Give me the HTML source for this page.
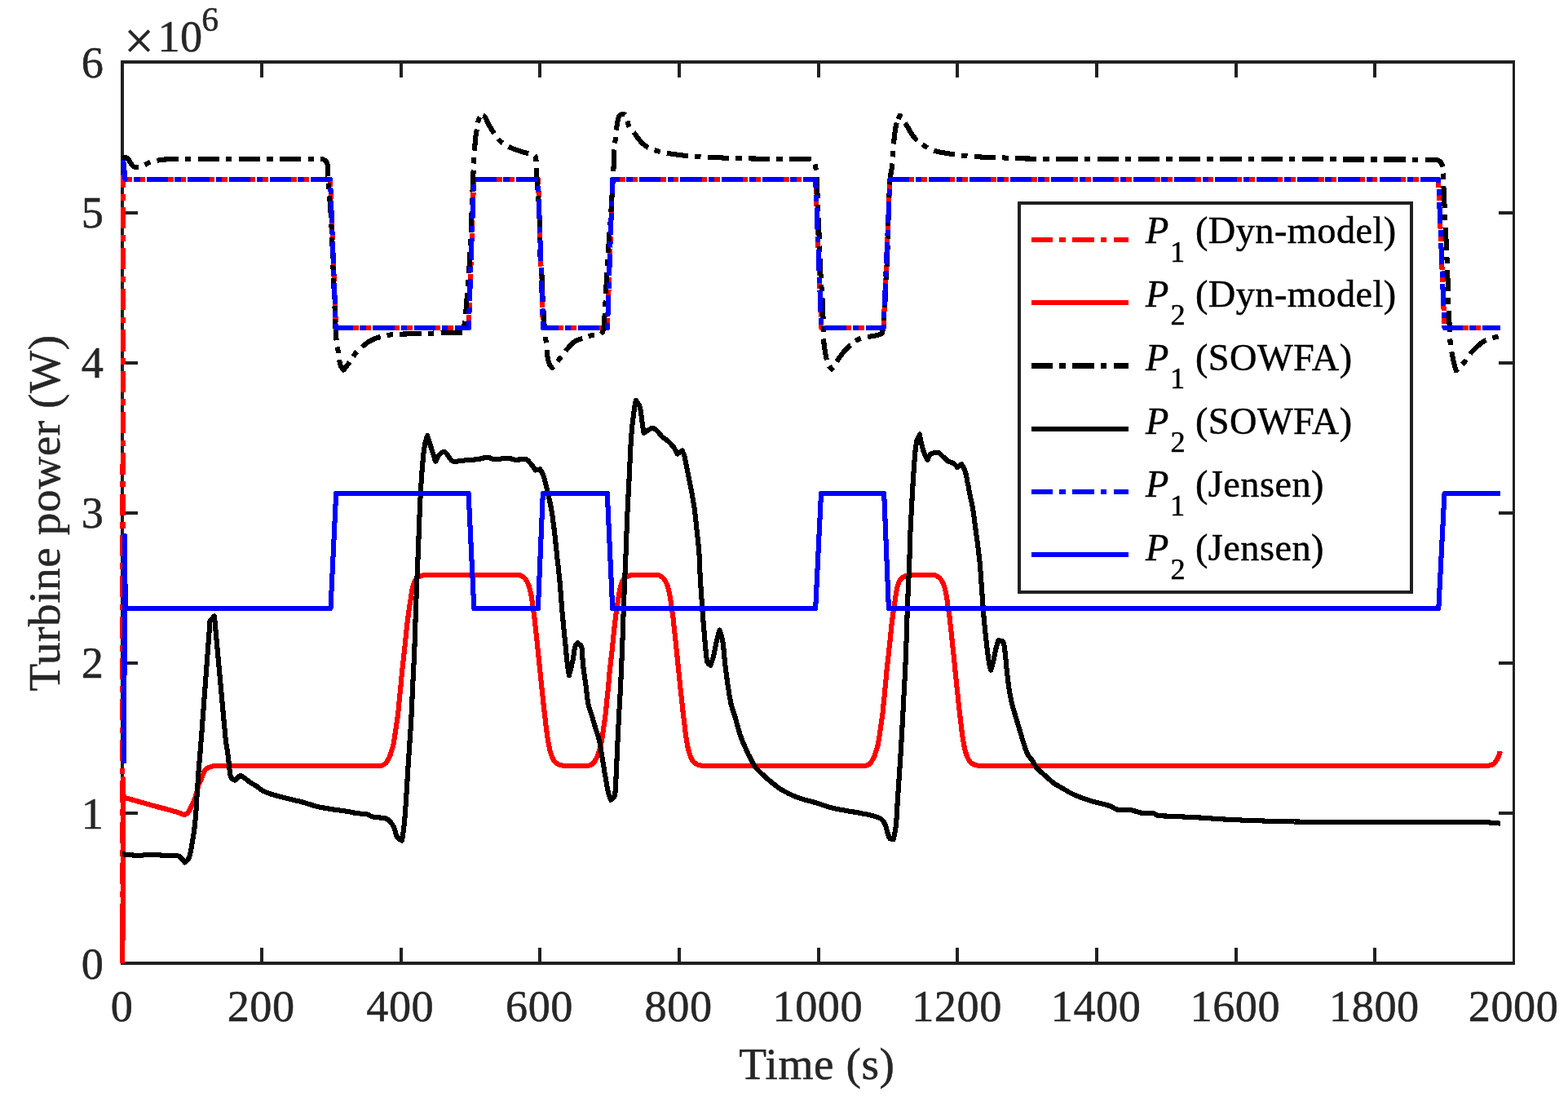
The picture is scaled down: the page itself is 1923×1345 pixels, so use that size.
<!DOCTYPE html>
<html lang="en"><head><meta charset="utf-8"><title>Turbine power</title>
<style>html,body{margin:0;padding:0;background:#fff}body{width:1923px;height:1345px;overflow:hidden}svg{display:block}text{font-family:"Liberation Serif", "DejaVu Serif", serif}</style></head><body>
<svg width="1923" height="1345" viewBox="0 0 1923 1345">
<rect width="1923" height="1345" fill="#fff"/>
<g fill="#202020" shape-rendering="crispEdges">
<rect x="148" y="74" width="4" height="1109"/>
<rect x="148" y="74" width="1710" height="4"/>
<rect x="1855" y="74" width="3" height="1109"/>
<rect x="148" y="1179" width="1710" height="4"/>
<rect x="319" y="1162" width="4" height="17"/><rect x="319" y="78" width="4" height="17"/>
<rect x="490" y="1162" width="4" height="17"/><rect x="490" y="78" width="4" height="17"/>
<rect x="660" y="1162" width="4" height="17"/><rect x="660" y="78" width="4" height="17"/>
<rect x="831" y="1162" width="4" height="17"/><rect x="831" y="78" width="4" height="17"/>
<rect x="1002" y="1162" width="4" height="17"/><rect x="1002" y="78" width="4" height="17"/>
<rect x="1172" y="1162" width="4" height="17"/><rect x="1172" y="78" width="4" height="17"/>
<rect x="1343" y="1162" width="4" height="17"/><rect x="1343" y="78" width="4" height="17"/>
<rect x="1514" y="1162" width="4" height="17"/><rect x="1514" y="78" width="4" height="17"/>
<rect x="1684" y="1162" width="4" height="17"/><rect x="1684" y="78" width="4" height="17"/>
<rect x="152" y="995" width="17" height="4"/><rect x="1838" y="995" width="17" height="4"/>
<rect x="152" y="811" width="17" height="4"/><rect x="1838" y="811" width="17" height="4"/>
<rect x="152" y="627" width="17" height="4"/><rect x="1838" y="627" width="17" height="4"/>
<rect x="152" y="443" width="17" height="4"/><rect x="1838" y="443" width="17" height="4"/>
<rect x="152" y="259" width="17" height="4"/><rect x="1838" y="259" width="17" height="4"/>
</g>
<g fill="none" stroke-width="6.1" stroke-linejoin="round" stroke-linecap="butt" shape-rendering="crispEdges">
<path d="M150.0 1180.7L150.9 217.3L151.2 220.0L405.0 220.0L412.0 402.0L574.8 402.0L581.1 220.0L660.0 220.0L666.0 402.0L744.9 402.0L751.2 220.0L1000.2 220.0L1007.3 402.0L1083.6 402.0L1091.4 220.0L1764.1 220.0L1771.5 402.0L1839.9 402.0" stroke="#ff0000" stroke-dasharray="26.3 8.05 7.5 8.42" stroke-dashoffset="4.08"/>
<path d="M150.4 1181.0L151.0 955.0L151.5 975.6L152.0 977.7L153.4 978.1L154.9 978.5L156.3 978.9L157.8 979.3L159.2 979.7L160.7 980.1L162.1 980.5L163.6 981.0L165.0 981.4L166.4 981.8L167.9 982.2L169.3 982.6L170.8 983.0L172.2 983.4L173.7 983.8L175.1 984.2L176.6 984.6L178.0 985.0L179.4 985.4L180.9 985.8L182.3 986.2L183.8 986.6L185.2 987.1L186.7 987.5L188.1 987.9L189.6 988.3L190.0 988.4L191.0 988.7L192.5 989.1L193.9 989.5L195.4 989.9L196.8 990.2L198.3 990.6L199.7 991.0L201.2 991.3L202.7 991.7L204.1 992.1L205.6 992.5L207.0 992.9L208.5 993.2L209.9 993.6L211.4 994.1L212.8 994.5L214.2 994.9L215.7 995.3L217.1 995.8L218.5 996.3L219.9 996.7L221.2 997.2L221.3 997.3L222.7 997.9L223.5 998.2L224.1 998.4L225.6 998.7L225.6 998.8L227.1 998.5L228.5 997.9L229.0 997.6L229.7 997.1L230.7 996.0L231.6 994.7L232.0 994.0L232.4 993.4L233.1 992.1L233.7 990.7L234.4 989.4L235.0 988.0L235.0 988.0L235.6 986.6L236.3 985.3L236.9 983.9L237.5 982.5L237.5 982.5L238.1 981.2L238.7 979.8L238.9 979.4L239.2 978.4L239.7 977.0L240.1 975.5L240.5 974.1L240.8 973.1L240.9 972.6L241.3 971.2L241.7 969.7L242.1 968.3L242.3 967.5L242.5 966.8L242.8 965.4L243.2 963.9L243.6 962.5L243.6 962.5L244.1 961.1L244.8 959.7L245.4 958.4L246.0 957.0L246.2 956.5L246.6 955.6L247.1 954.2L247.6 952.8L248.2 951.4L248.8 950.0L248.8 950.0L249.4 948.6L250.0 947.1L250.7 945.7L251.4 944.4L252.3 943.3L252.5 943.1L253.3 942.4L254.6 941.6L256.0 941.0L257.5 940.4L258.8 940.0L258.9 940.0L260.4 939.6L261.9 939.3L263.3 939.0L264.8 938.9L265.0 938.9L266.3 938.9L267.8 938.9L269.3 939.0L270.8 939.0L272.0 939.0L272.4 939.0L273.9 939.0L275.4 939.0L276.9 939.0L278.4 939.0L279.9 939.0L281.4 939.0L282.9 939.0L284.4 939.0L285.9 939.0L287.4 939.0L288.9 939.0L290.4 939.0L291.9 939.0L293.4 939.0L294.9 939.0L296.4 939.0L297.9 939.0L299.4 939.0L300.9 939.0L302.4 939.0L303.9 939.0L305.4 939.0L306.9 939.0L308.4 939.0L309.9 939.0L311.4 939.0L312.9 939.0L314.4 939.0L315.9 939.0L317.4 939.0L318.9 939.0L320.4 939.0L321.9 939.0L323.4 939.0L324.9 939.0L326.4 939.0L327.9 939.0L329.4 939.0L330.9 939.0L332.4 939.0L333.9 939.0L335.4 939.0L336.9 939.0L338.4 939.0L339.9 939.0L341.4 939.0L342.9 939.0L344.4 939.0L345.9 939.0L347.4 939.0L348.9 939.0L350.4 939.0L351.9 939.0L353.4 939.0L354.9 939.0L356.4 939.0L357.9 939.0L359.4 939.0L360.9 939.0L362.4 939.0L363.9 939.0L365.4 938.9L366.9 938.9L368.4 938.9L369.9 938.9L371.4 938.9L372.9 938.9L374.4 938.9L375.9 938.9L377.4 938.9L378.9 938.9L380.4 938.9L381.9 938.9L383.4 938.9L384.9 938.9L386.4 938.9L387.9 938.9L389.4 938.9L390.9 938.9L392.4 938.9L393.9 938.9L395.4 938.9L396.9 938.9L398.4 938.9L399.9 938.9L401.4 938.9L402.9 938.9L404.4 938.9L405.9 938.9L407.4 938.9L408.9 938.9L410.4 938.9L411.9 938.9L413.4 938.9L414.9 938.9L416.4 938.9L417.9 938.9L419.4 938.9L420.9 938.9L422.4 938.9L423.9 938.9L425.4 938.9L426.9 938.9L428.4 938.9L429.9 938.9L431.4 938.9L432.9 938.9L434.4 938.9L435.9 938.9L437.4 938.9L438.9 938.9L440.4 938.9L441.9 938.9L443.4 938.9L445.0 938.9L446.5 938.9L448.0 938.9L449.5 938.9L451.0 938.9L452.5 938.9L454.0 938.9L455.5 938.9L457.0 938.9L457.0 938.9L458.5 938.9L460.0 938.9L461.5 938.9L463.0 938.9L464.5 938.9L466.0 938.9L466.0 938.9L467.5 938.7L468.9 938.3L470.1 937.8L470.3 937.7L471.6 936.9L472.8 935.9L473.4 935.3L473.8 934.9L474.6 933.6L475.3 932.3L476.0 931.0L476.0 930.9L476.8 929.7L477.6 928.3L478.2 927.0L478.2 926.9L478.7 925.6L479.2 924.2L479.5 922.7L479.9 921.3L480.2 920.2L480.4 919.8L480.8 918.4L481.3 917.0L481.8 915.5L482.2 914.1L482.3 913.5L482.5 912.6L482.8 911.2L483.0 909.7L483.3 908.2L483.5 906.7L483.8 905.2L484.0 903.7L484.2 902.3L484.4 900.8L484.5 900.2L484.6 899.3L484.9 897.8L485.1 896.3L485.3 894.8L485.5 893.4L485.8 891.9L486.0 890.4L486.2 888.9L486.4 887.4L486.5 886.8L486.6 885.9L486.8 884.4L487.0 883.0L487.3 881.5L487.5 880.0L487.7 878.5L487.9 877.0L488.1 875.5L488.2 874.0L488.3 873.4L488.4 872.5L488.6 871.0L488.7 869.6L488.8 868.1L489.0 866.6L489.1 865.1L489.3 863.6L489.4 862.1L489.5 860.6L489.6 860.0L489.7 859.1L489.8 857.6L490.0 856.1L490.1 854.6L490.3 853.1L490.4 851.6L490.6 850.1L490.7 848.6L490.9 847.1L491.0 845.6L491.2 844.2L491.3 843.0L491.3 842.7L491.5 841.2L491.6 839.7L491.8 838.2L491.9 836.7L492.0 835.2L492.2 833.7L492.3 832.2L492.4 830.7L492.6 829.2L492.7 827.7L492.8 826.2L493.0 824.7L493.1 823.2L493.3 821.7L493.4 820.2L493.4 820.0L493.6 818.8L493.7 817.3L493.9 815.8L494.1 814.3L494.2 812.8L494.4 811.3L494.6 809.8L494.7 808.3L494.9 806.8L495.1 805.3L495.3 803.8L495.4 802.3L495.6 800.9L495.8 799.4L495.9 797.9L496.1 796.4L496.2 795.0L496.3 794.9L496.4 793.4L496.6 791.9L496.7 790.4L496.9 788.9L497.0 787.4L497.2 785.9L497.3 784.4L497.5 782.9L497.6 781.5L497.8 780.0L497.9 778.5L498.1 777.0L498.2 775.5L498.4 774.0L498.5 772.5L498.7 771.0L498.9 769.5L499.0 768.0L499.2 766.5L499.4 765.0L499.5 763.5L499.7 762.0L499.9 760.6L499.9 760.0L500.1 759.1L500.3 757.6L500.5 756.1L500.7 754.6L500.9 753.1L501.1 751.6L501.3 750.1L501.5 748.7L501.7 747.2L501.9 745.7L502.2 744.2L502.4 742.7L502.6 741.2L502.9 739.8L503.1 738.3L503.3 736.9L503.3 736.8L503.5 735.3L503.8 733.8L504.0 732.3L504.2 730.8L504.4 729.3L504.6 727.9L504.9 726.4L505.1 724.9L505.4 723.4L505.7 722.0L505.9 721.2L506.1 720.5L506.4 719.0L506.8 717.6L507.3 716.1L507.8 714.7L508.4 713.3L509.0 712.0L509.0 712.0L509.8 710.8L510.8 709.6L511.9 708.6L512.0 708.5L513.1 707.7L514.5 707.0L515.3 706.6L515.8 706.4L517.0 706.0L517.3 705.9L518.7 705.4L519.5 705.2L520.2 705.1L521.6 705.1L523.2 705.0L524.0 705.0L524.7 705.0L526.2 705.0L527.7 705.0L529.2 705.0L530.7 705.0L532.2 705.0L533.7 705.0L535.2 705.0L536.7 705.0L538.2 705.0L539.7 705.0L541.2 705.0L542.7 705.0L544.2 705.0L545.7 705.0L547.2 705.0L548.7 705.0L550.2 705.0L551.7 705.0L553.2 705.0L554.7 705.0L556.2 705.0L557.7 705.0L559.2 705.0L560.7 705.0L562.2 705.0L563.7 705.0L565.2 705.0L566.7 705.0L568.2 705.0L569.7 705.0L571.2 705.0L572.7 705.0L574.2 705.0L575.7 705.0L577.2 705.0L578.7 705.0L580.2 705.0L581.7 705.0L583.2 705.0L584.7 705.0L586.2 705.0L587.7 705.0L589.2 705.0L590.7 705.0L592.2 705.0L593.7 705.0L595.2 705.0L596.7 705.0L598.2 705.0L599.7 705.0L601.2 705.0L602.7 705.0L604.2 705.0L605.7 705.0L607.2 705.0L608.7 705.0L610.2 705.0L611.7 705.0L613.2 705.0L614.7 705.0L616.2 705.0L617.7 705.0L619.2 705.0L620.7 705.0L622.2 705.0L623.7 705.0L625.2 705.0L626.7 705.0L628.2 705.0L629.6 705.0L629.7 705.0L631.2 705.0L632.8 705.0L634.3 705.0L635.7 705.1L636.6 705.1L637.2 705.2L638.6 705.7L640.0 706.4L640.1 706.4L641.3 707.1L642.5 708.1L643.4 708.9L643.6 709.1L644.5 710.3L645.3 711.5L645.9 712.5L646.1 712.8L646.8 714.1L647.5 715.5L648.1 716.8L648.1 716.8L648.6 718.2L649.1 719.7L649.5 721.1L649.9 722.6L650.1 723.5L650.2 724.0L650.6 725.5L650.9 727.0L651.2 728.4L651.5 729.9L651.5 730.2L651.7 731.4L651.9 732.9L652.1 734.4L652.4 735.9L652.5 736.9L652.6 737.3L652.8 738.8L652.9 740.3L653.1 741.8L653.3 743.3L653.5 744.5L653.5 744.8L653.8 746.3L654.1 747.7L654.3 749.2L654.5 750.2L654.6 750.7L654.8 752.2L655.0 753.7L655.2 755.2L655.4 756.7L655.4 756.9L655.5 758.1L655.7 759.6L655.8 761.1L656.0 762.6L656.1 763.6L656.2 764.1L656.3 765.6L656.5 767.1L656.6 768.6L656.8 770.1L656.8 770.3L656.9 771.6L657.1 773.1L657.3 774.6L657.5 776.1L657.6 777.5L657.8 779.0L657.9 780.0L658.0 780.5L658.1 782.0L658.3 783.5L658.4 785.0L658.6 786.5L658.8 788.0L658.9 789.5L659.1 791.0L659.2 792.5L659.4 794.0L659.5 795.5L659.7 796.9L659.8 798.4L660.0 799.9L660.1 801.4L660.3 802.9L660.4 804.4L660.5 805.0L660.6 805.9L660.7 807.4L660.9 808.9L661.1 810.4L661.2 811.9L661.4 813.4L661.5 814.9L661.7 816.4L661.8 817.8L662.0 819.3L662.1 820.8L662.3 822.3L662.4 823.8L662.6 825.3L662.7 826.8L662.9 828.3L663.0 829.8L663.2 831.3L663.3 832.8L663.5 834.3L663.6 835.8L663.8 837.3L663.9 838.3L663.9 838.8L664.1 840.2L664.3 841.7L664.4 843.2L664.6 844.7L664.7 846.2L664.9 847.7L665.0 849.2L665.2 850.7L665.4 852.2L665.5 853.7L665.7 855.2L665.8 856.7L666.0 858.2L666.2 859.6L666.2 860.0L666.3 861.1L666.5 862.6L666.6 864.1L666.8 865.6L667.0 867.1L667.1 868.6L667.3 870.1L667.5 871.6L667.6 873.1L667.8 874.6L668.0 876.1L668.1 877.6L668.3 879.0L668.5 880.5L668.6 882.0L668.8 883.5L669.0 885.0L669.0 885.0L669.2 886.5L669.4 888.0L669.5 889.5L669.7 891.0L669.9 892.5L670.1 894.0L670.3 895.4L670.5 896.9L670.6 898.4L670.8 899.9L671.0 901.4L671.3 902.9L671.5 904.4L671.7 905.9L671.9 907.3L672.2 908.8L672.4 910.0L672.5 910.3L672.7 911.8L673.0 913.2L673.3 914.7L673.6 916.2L673.9 917.7L674.3 919.2L674.6 920.7L675.0 922.1L675.5 923.5L675.9 924.9L676.4 926.3L676.5 926.6L676.9 927.7L677.6 929.1L678.3 930.6L679.0 931.9L679.9 933.2L680.8 934.3L681.5 935.0L681.8 935.2L683.0 936.1L684.3 936.9L685.7 937.6L687.2 938.1L688.2 938.3L688.6 938.4L690.1 938.6L691.6 938.8L693.1 939.0L694.6 939.0L694.6 939.0L696.1 939.0L697.6 939.0L699.1 939.0L700.6 939.0L702.1 939.0L703.6 938.9L705.1 938.9L706.6 938.9L708.1 938.9L709.6 938.9L711.1 938.9L711.6 938.9L712.6 938.9L714.2 938.9L715.7 938.9L717.2 938.9L718.7 938.9L720.2 938.9L720.6 938.9L721.6 938.8L723.1 938.4L724.5 937.9L724.7 937.8L725.8 937.2L727.1 936.2L728.0 935.3L728.1 935.2L729.0 934.0L729.7 932.7L730.4 931.3L730.6 931.0L731.2 930.0L732.0 928.7L732.6 927.4L732.9 926.9L733.2 926.0L733.6 924.6L734.0 923.1L734.4 921.7L734.8 920.2L734.9 920.2L735.3 918.8L735.8 917.4L736.2 915.9L736.7 914.5L736.9 913.5L737.0 913.0L737.3 911.6L737.6 910.1L737.8 908.6L738.1 907.1L738.3 905.6L738.5 904.2L738.7 902.7L738.9 901.2L739.1 900.2L739.2 899.7L739.4 898.2L739.6 896.7L739.9 895.3L740.1 893.8L740.3 892.3L740.5 890.8L740.7 889.3L741.0 887.8L741.1 886.8L741.2 886.3L741.4 884.9L741.6 883.4L741.8 881.9L742.0 880.4L742.2 878.9L742.4 877.4L742.6 875.9L742.8 874.4L742.9 873.4L743.0 873.0L743.1 871.5L743.3 870.0L743.4 868.5L743.5 867.0L743.7 865.5L743.8 864.0L744.0 862.5L744.1 861.0L744.2 860.0L744.2 859.5L744.4 858.0L744.5 856.5L744.7 855.0L744.8 853.5L745.0 852.0L745.2 850.5L745.3 849.1L745.5 847.6L745.6 846.1L745.7 844.6L745.9 843.1L745.9 843.0L746.0 841.6L746.2 840.1L746.3 838.6L746.5 837.1L746.6 835.6L746.7 834.1L746.9 832.6L747.0 831.1L747.1 829.6L747.3 828.1L747.4 826.6L747.5 825.1L747.7 823.6L747.8 822.2L748.0 820.7L748.1 820.0L748.1 819.2L748.3 817.7L748.5 816.2L748.6 814.7L748.8 813.2L748.9 811.7L749.1 810.2L749.3 808.7L749.5 807.2L749.6 805.7L749.8 804.3L750.0 802.8L750.1 801.3L750.3 799.8L750.5 798.3L750.7 796.8L750.8 795.3L750.9 795.0L751.0 793.8L751.1 792.3L751.3 790.8L751.4 789.3L751.6 787.8L751.8 786.3L751.9 784.9L752.1 783.4L752.2 781.9L752.3 780.4L752.5 778.9L752.6 777.4L752.8 775.9L753.0 774.4L753.1 772.9L753.3 771.4L753.4 769.9L753.6 768.4L753.7 766.9L753.9 765.4L754.1 764.0L754.3 762.5L754.4 761.0L754.6 760.0L754.6 759.5L754.8 758.0L755.0 756.5L755.2 755.0L755.4 753.5L755.6 752.0L755.8 750.6L756.0 749.1L756.3 747.6L756.5 746.1L756.7 744.6L756.9 743.1L757.2 741.7L757.4 740.2L757.6 738.7L757.9 737.2L757.9 736.9L758.1 735.7L758.3 734.2L758.5 732.7L758.7 731.3L758.9 729.8L759.2 728.3L759.4 726.8L759.7 725.3L759.9 723.8L760.2 722.4L760.5 721.2L760.6 720.9L760.9 719.5L761.3 718.0L761.8 716.5L762.2 715.1L762.8 713.7L763.4 712.4L763.6 712.0L764.2 711.1L765.1 709.9L766.2 708.8L766.6 708.5L767.4 707.9L768.7 707.2L769.9 706.6L770.1 706.5L771.5 706.0L771.6 706.0L772.9 705.5L774.1 705.2L774.3 705.2L775.8 705.1L777.3 705.0L778.6 705.0L778.8 705.0L780.3 705.0L781.8 705.0L783.3 705.0L784.8 705.0L786.3 705.0L787.8 705.0L789.3 705.0L790.8 705.0L792.4 705.0L793.9 705.0L795.4 705.0L796.9 705.0L798.4 705.0L799.6 705.0L799.9 705.0L801.4 705.0L802.9 705.0L804.4 705.0L805.9 705.1L806.6 705.1L807.3 705.2L808.8 705.7L810.1 706.4L810.1 706.4L811.4 707.2L812.6 708.1L813.4 708.9L813.7 709.2L814.6 710.4L815.4 711.6L815.9 712.5L816.2 712.9L816.9 714.3L817.6 715.6L818.1 716.8L818.2 717.0L818.7 718.4L819.1 719.8L819.5 721.3L819.9 722.7L820.1 723.5L820.3 724.2L820.6 725.6L820.9 727.1L821.2 728.6L821.5 730.1L821.5 730.2L821.7 731.5L822.0 733.0L822.2 734.5L822.4 736.0L822.5 736.9L822.6 737.5L822.8 739.0L823.0 740.5L823.1 741.9L823.3 743.4L823.5 744.5L823.6 744.9L823.8 746.4L824.1 747.9L824.4 749.3L824.5 750.2L824.6 750.8L824.8 752.3L825.0 753.8L825.2 755.3L825.4 756.8L825.4 756.9L825.6 758.3L825.7 759.8L825.9 761.3L826.0 762.8L826.1 763.6L826.2 764.2L826.3 765.7L826.5 767.2L826.6 768.7L826.8 770.2L826.8 770.3L827.0 771.7L827.1 773.2L827.3 774.7L827.5 776.2L827.6 777.7L827.8 779.2L827.9 780.0L828.0 780.7L828.1 782.1L828.3 783.6L828.5 785.1L828.6 786.6L828.8 788.1L828.9 789.6L829.1 791.1L829.2 792.6L829.4 794.1L829.5 795.6L829.7 797.1L829.8 798.6L830.0 800.1L830.1 801.6L830.3 803.0L830.5 804.5L830.5 805.0L830.6 806.0L830.8 807.5L830.9 809.0L831.1 810.5L831.2 812.0L831.4 813.5L831.5 815.0L831.7 816.5L831.8 818.0L832.0 819.5L832.1 821.0L832.3 822.5L832.4 824.0L832.6 825.4L832.7 826.9L832.9 828.4L833.0 829.9L833.2 831.4L833.3 832.9L833.5 834.4L833.7 835.9L833.8 837.4L833.9 838.3L834.0 838.9L834.1 840.4L834.3 841.9L834.4 843.4L834.6 844.9L834.7 846.3L834.9 847.8L835.1 849.3L835.2 850.8L835.4 852.3L835.5 853.8L835.7 855.3L835.9 856.8L836.0 858.3L836.2 859.8L836.2 860.0L836.3 861.3L836.5 862.8L836.7 864.3L836.8 865.7L837.0 867.2L837.1 868.7L837.3 870.2L837.5 871.7L837.6 873.2L837.8 874.7L838.0 876.2L838.1 877.7L838.3 879.2L838.5 880.7L838.7 882.2L838.8 883.6L839.0 885.0L839.0 885.1L839.2 886.6L839.4 888.1L839.6 889.6L839.7 891.1L839.9 892.6L840.1 894.1L840.3 895.6L840.5 897.1L840.7 898.6L840.9 900.0L841.1 901.5L841.3 903.0L841.5 904.5L841.7 906.0L842.0 907.5L842.2 908.9L842.4 910.0L842.5 910.4L842.7 911.9L843.0 913.4L843.3 914.9L843.6 916.4L844.0 917.8L844.3 919.3L844.7 920.8L845.1 922.2L845.5 923.7L846.0 925.1L846.4 926.4L846.5 926.6L847.0 927.8L847.6 929.3L848.3 930.7L849.1 932.1L850.0 933.3L850.9 934.4L851.5 935.0L851.9 935.3L853.1 936.2L854.4 936.9L855.9 937.6L857.3 938.1L858.2 938.3L858.8 938.4L860.2 938.6L861.7 938.8L863.3 939.0L864.6 939.0L864.8 939.0L866.3 939.0L867.8 939.0L869.2 939.0L870.7 939.0L872.2 939.0L873.7 939.0L875.2 939.0L876.7 939.0L878.2 939.0L879.7 939.0L881.2 939.0L882.7 939.0L884.2 939.0L885.7 939.0L887.2 939.0L888.7 939.0L890.2 939.0L891.7 939.0L893.2 939.0L894.7 939.0L896.2 939.0L897.7 939.0L899.2 939.0L900.7 939.0L902.2 939.0L903.7 939.0L905.2 939.0L906.7 939.0L908.2 939.0L909.7 939.0L911.2 939.0L912.7 939.0L914.2 939.0L915.7 939.0L917.2 939.0L918.7 939.0L920.2 939.0L921.7 939.0L923.2 939.0L924.7 939.0L926.2 939.0L927.7 939.0L929.2 939.0L930.7 939.0L932.2 939.0L933.7 939.0L935.2 939.0L936.7 939.0L938.2 939.0L939.7 939.0L941.2 939.0L942.7 939.0L944.2 939.0L945.7 939.0L947.2 939.0L948.7 939.0L950.2 939.0L951.7 939.0L953.2 939.0L954.7 939.0L956.2 939.0L957.7 939.0L959.2 938.9L960.7 938.9L962.2 938.9L963.7 938.9L965.2 938.9L966.7 938.9L968.2 938.9L969.7 938.9L971.2 938.9L972.8 938.9L974.3 938.9L975.8 938.9L977.3 938.9L978.8 938.9L980.3 938.9L981.8 938.9L983.3 938.9L984.8 938.9L986.3 938.9L987.8 938.9L989.3 938.9L990.8 938.9L992.3 938.9L993.8 938.9L995.3 938.9L996.8 938.9L998.3 938.9L999.8 938.9L1001.3 938.9L1002.8 938.9L1004.3 938.9L1005.8 938.9L1007.3 938.9L1008.8 938.9L1010.3 938.9L1011.8 938.9L1013.3 938.9L1014.8 938.9L1016.3 938.9L1017.8 938.9L1019.3 938.9L1020.8 938.9L1022.3 938.9L1023.8 938.9L1025.3 938.9L1026.8 938.9L1028.3 938.9L1029.9 938.9L1031.4 938.9L1032.9 938.9L1034.4 938.9L1035.9 938.9L1037.4 938.9L1038.9 938.9L1040.4 938.9L1041.9 938.9L1043.4 938.9L1044.9 938.9L1046.4 938.9L1047.9 938.9L1049.4 938.9L1050.9 938.9L1051.3 938.9L1052.4 938.9L1053.9 938.9L1055.4 938.9L1056.9 938.9L1058.4 938.9L1059.9 938.9L1060.3 938.9L1061.4 938.8L1062.9 938.4L1064.3 937.9L1064.4 937.8L1065.6 937.2L1066.8 936.2L1067.7 935.3L1067.8 935.2L1068.7 934.0L1069.4 932.6L1070.1 931.3L1070.3 931.0L1070.9 930.0L1071.7 928.7L1072.4 927.4L1072.5 926.9L1072.9 926.0L1073.3 924.5L1073.7 923.1L1074.1 921.6L1074.5 920.2L1074.6 920.2L1075.0 918.8L1075.5 917.3L1075.9 915.9L1076.4 914.5L1076.6 913.5L1076.7 913.0L1077.0 911.5L1077.3 910.1L1077.5 908.6L1077.8 907.1L1078.0 905.6L1078.2 904.1L1078.4 902.6L1078.7 901.2L1078.8 900.2L1078.9 899.7L1079.1 898.2L1079.3 896.7L1079.6 895.2L1079.8 893.7L1080.0 892.3L1080.2 890.8L1080.4 889.3L1080.7 887.8L1080.8 886.8L1080.9 886.3L1081.1 884.8L1081.3 883.3L1081.5 881.8L1081.7 880.4L1081.9 878.9L1082.1 877.4L1082.3 875.9L1082.5 874.4L1082.6 873.4L1082.7 872.9L1082.8 871.4L1083.0 869.9L1083.1 868.4L1083.3 866.9L1083.4 865.5L1083.5 864.0L1083.7 862.5L1083.8 861.0L1083.9 860.0L1084.0 859.5L1084.1 858.0L1084.2 856.5L1084.4 855.0L1084.6 853.5L1084.7 852.0L1084.9 850.5L1085.0 849.0L1085.2 847.5L1085.3 846.0L1085.4 844.5L1085.6 843.0L1085.6 843.0L1085.7 841.6L1085.9 840.1L1086.0 838.6L1086.2 837.1L1086.3 835.6L1086.4 834.1L1086.6 832.6L1086.7 831.1L1086.8 829.6L1087.0 828.1L1087.1 826.6L1087.2 825.1L1087.4 823.6L1087.5 822.1L1087.7 820.6L1087.8 820.0L1087.8 819.1L1088.0 817.6L1088.2 816.2L1088.3 814.7L1088.5 813.2L1088.6 811.7L1088.8 810.2L1089.0 808.7L1089.2 807.2L1089.3 805.7L1089.5 804.2L1089.7 802.7L1089.8 801.2L1090.0 799.7L1090.2 798.3L1090.4 796.8L1090.5 795.3L1090.5 795.0L1090.7 793.8L1090.8 792.3L1091.0 790.8L1091.2 789.3L1091.3 787.8L1091.5 786.3L1091.6 784.8L1091.8 783.3L1091.9 781.8L1092.1 780.3L1092.2 778.8L1092.4 777.4L1092.5 775.9L1092.7 774.4L1092.8 772.9L1093.0 771.4L1093.1 769.9L1093.3 768.4L1093.4 766.9L1093.6 765.4L1093.8 763.9L1094.0 762.4L1094.1 760.9L1094.2 760.0L1094.3 759.5L1094.5 758.0L1094.7 756.5L1094.9 755.0L1095.1 753.5L1095.3 752.0L1095.5 750.5L1095.7 749.0L1096.0 747.6L1096.2 746.1L1096.4 744.6L1096.6 743.1L1096.9 741.6L1097.1 740.1L1097.3 738.7L1097.6 737.2L1097.6 736.9L1097.8 735.7L1098.0 734.2L1098.2 732.7L1098.4 731.2L1098.7 729.7L1098.9 728.2L1099.1 726.8L1099.4 725.3L1099.6 723.8L1099.9 722.3L1100.2 721.2L1100.3 720.9L1100.6 719.4L1101.0 717.9L1101.5 716.5L1102.0 715.0L1102.5 713.6L1103.1 712.3L1103.3 712.0L1103.9 711.1L1104.8 709.9L1105.9 708.8L1106.3 708.5L1107.1 707.9L1108.4 707.2L1109.6 706.6L1109.8 706.5L1111.2 706.0L1111.3 706.0L1112.6 705.5L1113.8 705.2L1114.1 705.2L1115.6 705.1L1117.1 705.0L1118.3 705.0L1118.6 705.0L1120.1 705.0L1121.6 705.0L1123.1 705.0L1124.6 705.0L1126.1 705.0L1127.6 705.0L1129.1 705.0L1130.6 705.0L1132.1 705.0L1133.6 705.0L1135.1 705.0L1136.6 705.0L1138.1 705.0L1138.8 705.0L1139.6 705.0L1141.1 705.0L1142.6 705.0L1144.1 705.1L1145.6 705.1L1145.8 705.1L1147.0 705.3L1148.5 706.0L1149.3 706.4L1149.8 706.7L1151.0 707.5L1152.2 708.5L1152.6 708.9L1153.2 709.6L1154.1 710.8L1154.9 712.1L1155.1 712.5L1155.6 713.4L1156.4 714.7L1157.0 716.1L1157.3 716.8L1157.5 717.5L1158.0 718.9L1158.5 720.3L1158.9 721.8L1159.2 723.2L1159.3 723.5L1159.6 724.7L1159.9 726.2L1160.2 727.6L1160.5 729.1L1160.7 730.2L1160.8 730.6L1161.0 732.1L1161.2 733.5L1161.4 735.0L1161.6 736.5L1161.7 736.9L1161.8 738.0L1162.0 739.5L1162.2 741.0L1162.4 742.5L1162.6 744.0L1162.7 744.5L1162.9 745.4L1163.1 746.9L1163.4 748.4L1163.6 749.9L1163.7 750.2L1163.9 751.4L1164.1 752.8L1164.3 754.3L1164.5 755.8L1164.6 756.9L1164.6 757.3L1164.8 758.8L1165.0 760.3L1165.1 761.8L1165.3 763.3L1165.3 763.6L1165.4 764.8L1165.6 766.3L1165.7 767.8L1165.9 769.3L1166.0 770.3L1166.0 770.7L1166.2 772.2L1166.4 773.7L1166.6 775.2L1166.7 776.7L1166.9 778.2L1167.1 779.7L1167.1 780.0L1167.2 781.2L1167.4 782.7L1167.5 784.2L1167.7 785.7L1167.9 787.2L1168.0 788.6L1168.2 790.1L1168.3 791.6L1168.5 793.1L1168.6 794.6L1168.8 796.1L1168.9 797.6L1169.1 799.1L1169.2 800.6L1169.4 802.1L1169.6 803.6L1169.7 805.0L1169.7 805.1L1169.9 806.6L1170.0 808.1L1170.2 809.6L1170.3 811.0L1170.5 812.5L1170.6 814.0L1170.8 815.5L1170.9 817.0L1171.1 818.5L1171.2 820.0L1171.4 821.5L1171.5 823.0L1171.7 824.5L1171.8 826.0L1172.0 827.5L1172.1 829.0L1172.3 830.5L1172.4 831.9L1172.6 833.4L1172.8 834.9L1172.9 836.4L1173.1 837.9L1173.1 838.3L1173.2 839.4L1173.4 840.9L1173.5 842.4L1173.7 843.9L1173.8 845.4L1174.0 846.9L1174.2 848.4L1174.3 849.9L1174.5 851.4L1174.6 852.8L1174.8 854.3L1174.9 855.8L1175.1 857.3L1175.3 858.8L1175.4 860.0L1175.4 860.3L1175.6 861.8L1175.8 863.3L1175.9 864.8L1176.1 866.3L1176.2 867.8L1176.4 869.3L1176.6 870.8L1176.7 872.2L1176.9 873.7L1177.1 875.2L1177.2 876.7L1177.4 878.2L1177.6 879.7L1177.7 881.2L1177.9 882.7L1178.1 884.2L1178.2 885.0L1178.3 885.7L1178.5 887.2L1178.6 888.6L1178.8 890.1L1179.0 891.6L1179.2 893.1L1179.4 894.6L1179.5 896.1L1179.7 897.6L1179.9 899.1L1180.1 900.6L1180.3 902.1L1180.6 903.5L1180.8 905.0L1181.0 906.5L1181.3 908.0L1181.5 909.5L1181.6 910.0L1181.8 910.9L1182.0 912.4L1182.3 913.9L1182.6 915.4L1182.9 916.9L1183.3 918.4L1183.6 919.8L1184.0 921.3L1184.4 922.7L1184.9 924.2L1185.3 925.6L1185.7 926.6L1185.8 926.9L1186.4 928.3L1187.1 929.8L1187.8 931.2L1188.6 932.5L1189.5 933.7L1190.4 934.8L1190.7 935.0L1191.5 935.6L1192.7 936.5L1194.1 937.2L1195.6 937.8L1197.0 938.2L1197.4 938.3L1198.5 938.5L1200.0 938.7L1201.5 938.9L1203.0 939.0L1203.8 939.0L1204.5 939.0L1206.0 939.0L1207.5 939.0L1209.0 939.0L1210.5 939.0L1212.0 939.0L1213.5 939.0L1215.0 939.0L1216.5 939.0L1217.9 939.0L1219.4 939.0L1220.9 939.0L1222.4 939.0L1223.9 939.0L1225.4 939.0L1226.9 939.0L1228.4 939.0L1229.9 939.0L1231.4 939.0L1232.9 939.0L1234.4 939.0L1235.9 939.0L1237.4 939.0L1238.9 939.0L1240.4 939.0L1241.9 939.0L1243.4 939.0L1244.9 939.0L1246.4 939.0L1247.9 939.0L1249.4 939.0L1250.9 939.0L1252.4 939.0L1253.9 939.0L1255.4 939.0L1256.9 939.0L1258.3 939.0L1259.8 939.0L1261.3 939.0L1262.8 939.0L1264.3 939.0L1265.8 939.0L1267.3 939.0L1268.8 939.0L1270.3 939.0L1271.8 939.0L1273.3 939.0L1274.8 939.0L1276.3 939.0L1277.8 939.0L1279.3 939.0L1280.8 939.0L1282.3 939.0L1283.8 939.0L1285.3 939.0L1286.8 939.0L1288.3 939.0L1289.8 939.0L1291.3 939.0L1292.8 939.0L1294.3 939.0L1295.8 939.0L1297.3 939.0L1298.8 939.0L1300.3 939.0L1301.8 939.0L1303.3 939.0L1304.8 939.0L1306.3 939.0L1307.8 939.0L1309.3 939.0L1310.8 939.0L1312.3 939.0L1313.8 939.0L1315.3 939.0L1316.8 939.0L1318.3 939.0L1319.8 939.0L1321.3 939.0L1322.8 939.0L1324.3 939.0L1325.8 939.0L1327.3 939.0L1328.8 939.0L1330.3 939.0L1331.8 939.0L1333.3 939.0L1334.8 939.0L1336.3 939.0L1337.8 939.0L1339.3 939.0L1340.8 939.0L1342.3 939.0L1343.8 939.0L1345.3 939.0L1346.8 939.0L1348.3 939.0L1349.8 939.0L1351.3 939.0L1352.8 939.0L1354.3 939.0L1355.8 939.0L1357.3 939.0L1358.8 939.0L1360.3 939.0L1361.8 939.0L1363.3 939.0L1364.8 939.0L1366.3 939.0L1367.8 939.0L1369.3 939.0L1370.8 939.0L1372.3 939.0L1373.8 939.0L1375.3 939.0L1376.8 939.0L1378.3 939.0L1379.8 939.0L1381.3 939.0L1382.8 939.0L1384.3 939.0L1385.8 939.0L1387.3 939.0L1388.8 939.0L1390.3 939.0L1391.8 939.0L1393.3 939.0L1394.8 939.0L1396.3 939.0L1397.8 939.0L1399.3 939.0L1400.8 939.0L1402.3 939.0L1403.8 939.0L1405.3 939.0L1406.8 939.0L1408.3 939.0L1409.8 939.0L1411.3 939.0L1412.8 939.0L1414.3 939.0L1415.8 939.0L1417.3 939.0L1418.8 939.0L1420.3 939.0L1421.8 939.0L1423.3 939.0L1424.8 939.0L1426.3 939.0L1427.8 939.0L1429.3 939.0L1430.8 939.0L1432.3 939.0L1433.8 939.0L1435.3 939.0L1436.8 939.0L1438.3 939.0L1439.8 939.0L1441.3 939.0L1442.8 939.0L1444.3 939.0L1445.8 939.0L1447.3 939.0L1448.8 939.0L1450.3 939.0L1451.8 939.0L1453.3 939.0L1454.8 939.0L1456.3 939.0L1457.8 939.0L1459.3 939.0L1460.8 939.0L1462.3 939.0L1463.8 939.0L1465.3 939.0L1466.8 939.0L1468.3 939.0L1469.8 939.0L1471.3 939.0L1472.8 939.0L1474.3 939.0L1475.8 939.0L1477.3 939.0L1478.8 939.0L1480.3 939.0L1481.8 939.0L1483.3 939.0L1484.9 939.0L1486.4 939.0L1487.9 939.0L1489.4 939.0L1490.9 939.0L1492.4 939.0L1493.9 939.0L1495.4 939.0L1496.9 939.0L1498.4 939.0L1499.9 939.0L1501.4 939.0L1502.9 939.0L1504.4 939.0L1505.9 939.0L1507.4 939.0L1508.9 939.0L1510.4 939.0L1511.9 939.0L1513.4 939.0L1514.9 939.0L1516.4 939.0L1517.9 939.0L1519.4 939.0L1520.9 939.0L1522.4 939.0L1523.9 939.0L1525.4 939.0L1526.9 939.0L1528.4 939.0L1529.9 939.0L1531.4 939.0L1532.9 939.0L1534.4 939.0L1535.9 939.0L1537.4 939.0L1538.9 939.0L1540.4 939.0L1541.9 939.0L1543.4 939.0L1545.0 939.0L1546.5 939.0L1548.0 939.0L1549.5 939.0L1551.0 939.0L1552.5 939.0L1554.0 939.0L1555.5 939.0L1557.0 939.0L1558.5 939.0L1560.0 939.0L1561.5 939.0L1563.0 939.0L1564.5 939.0L1566.0 939.0L1567.5 939.0L1569.0 939.0L1570.5 939.0L1572.0 939.0L1573.5 939.0L1575.0 939.0L1576.5 939.0L1578.0 939.0L1579.5 939.0L1581.0 939.0L1582.5 939.0L1584.0 939.0L1585.5 939.0L1587.0 939.0L1588.5 939.0L1590.0 939.0L1591.5 939.0L1593.0 939.0L1594.5 939.0L1596.0 939.0L1597.5 939.0L1599.1 939.0L1600.6 939.0L1602.1 939.0L1603.6 939.0L1605.1 939.0L1606.6 939.0L1608.1 939.0L1609.6 939.0L1611.1 939.0L1612.6 939.0L1614.1 939.0L1615.6 939.0L1617.1 939.0L1618.6 939.0L1620.1 939.0L1621.6 939.0L1623.1 939.0L1624.6 939.0L1626.1 939.0L1627.6 939.0L1629.1 939.0L1630.6 939.0L1632.1 939.0L1633.6 939.0L1635.1 939.0L1636.6 939.0L1638.1 939.0L1639.6 939.0L1641.1 939.0L1642.6 939.0L1644.1 939.0L1645.6 939.0L1647.1 939.0L1648.6 939.0L1650.1 939.0L1651.7 939.0L1653.2 939.0L1654.7 939.0L1656.2 939.0L1657.7 939.0L1659.2 939.0L1660.7 939.0L1662.2 939.0L1663.7 939.0L1665.2 939.0L1666.7 939.0L1668.2 939.0L1669.7 939.0L1671.2 939.0L1672.7 939.0L1674.2 939.0L1675.7 939.0L1677.2 939.0L1678.7 939.0L1680.2 939.0L1681.7 939.0L1683.2 939.0L1684.7 939.0L1686.2 939.0L1687.7 939.0L1689.2 939.0L1690.7 939.0L1692.2 939.0L1693.7 939.0L1695.2 939.0L1696.7 939.0L1698.2 939.0L1699.7 939.0L1701.2 939.0L1702.7 939.0L1704.2 939.0L1705.7 939.0L1707.2 939.0L1708.7 939.0L1710.2 939.0L1711.7 939.0L1713.3 939.0L1714.8 939.0L1716.3 939.0L1717.8 939.0L1719.3 939.0L1720.8 939.0L1722.3 939.0L1723.8 939.0L1725.3 939.0L1726.8 939.0L1728.3 939.0L1729.8 939.0L1731.3 939.0L1732.8 939.0L1734.3 939.0L1735.8 939.0L1737.3 939.0L1738.8 939.0L1740.3 939.0L1741.8 939.0L1743.3 939.0L1744.8 939.0L1746.3 939.0L1747.8 939.0L1749.3 939.0L1750.8 939.0L1752.3 939.0L1753.8 939.0L1755.3 939.0L1756.8 939.0L1758.3 939.0L1759.8 939.0L1761.3 939.0L1762.8 939.0L1764.3 939.0L1765.8 939.0L1767.3 939.0L1768.8 939.0L1770.3 939.0L1771.8 939.0L1773.3 939.0L1774.8 939.0L1776.3 939.0L1777.8 939.0L1779.3 939.0L1780.8 939.0L1782.3 939.0L1783.8 939.0L1785.3 939.0L1786.8 939.0L1788.3 939.0L1789.8 939.0L1791.3 939.0L1792.8 939.0L1794.3 939.0L1795.8 939.0L1797.3 939.0L1798.8 939.0L1800.3 939.0L1801.8 939.0L1803.3 939.0L1804.8 939.0L1806.3 939.0L1807.8 939.0L1809.3 939.0L1810.8 939.0L1812.3 939.0L1813.8 939.0L1815.4 939.0L1816.9 939.0L1818.0 939.0L1818.4 939.0L1819.9 939.0L1821.4 938.9L1822.9 938.9L1824.4 938.8L1824.9 938.8L1825.9 938.7L1827.4 938.4L1828.9 938.0L1830.1 937.6L1830.2 937.6L1831.4 936.8L1832.6 935.8L1833.6 934.6L1834.3 933.7L1834.5 933.4L1835.4 932.2L1836.2 930.9L1836.9 929.5L1837.4 928.5L1837.5 928.2L1838.1 926.8L1838.6 925.4L1839.0 924.0L1839.4 922.5L1839.7 921.0" stroke="#ff0000"/>
<path d="M149.2 194.5L150.3 193.9L151.4 193.5L152.0 193.4L152.6 193.4L153.8 193.3L154.5 193.3L155.0 193.4L156.0 194.0L156.9 194.9L157.5 195.6L157.7 195.8L158.4 196.8L159.0 197.8L159.6 198.9L160.2 200.0L160.8 200.8L160.9 201.0L161.7 202.0L162.4 203.1L163.3 203.9L164.1 204.4L164.2 204.4L165.3 204.7L166.5 205.0L167.8 205.1L169.0 205.2L169.1 205.2L170.2 205.1L171.3 204.9L172.5 204.5L173.7 204.0L174.8 203.6L175.0 203.5L175.9 203.1L176.9 202.6L178.0 202.0L179.0 201.3L180.1 200.7L180.8 200.4L181.2 200.2L182.3 199.7L183.4 199.3L184.5 198.8L185.7 198.4L186.8 198.1L187.0 198.0L188.0 197.8L189.1 197.5L190.3 197.2L191.5 197.0L192.7 196.8L193.3 196.7L193.9 196.6L195.1 196.4L196.2 196.2L197.4 196.0L198.6 195.8L199.8 195.7L200.8 195.6L201.0 195.6L202.2 195.5L203.4 195.5L204.6 195.4L205.8 195.3L207.0 195.3L208.2 195.2L209.4 195.2L210.6 195.1L211.8 195.1L213.0 195.1L214.3 195.0L215.5 195.0L216.7 195.0L217.9 195.0L219.1 195.0L219.1 195.0L220.3 195.0L221.5 195.0L222.7 195.0L223.9 195.0L225.1 195.0L226.3 195.0L227.5 195.0L228.7 195.0L229.9 195.0L231.1 195.0L232.3 195.0L233.5 195.0L234.7 195.0L235.9 195.0L237.1 195.0L238.3 195.0L239.5 195.0L240.7 195.0L241.9 195.0L243.1 195.0L244.4 195.0L245.6 195.0L246.8 195.0L248.0 195.0L249.2 195.0L250.4 195.0L251.6 195.0L252.8 195.0L254.0 195.0L255.2 195.0L256.4 195.0L257.6 195.0L258.8 195.0L260.0 195.0L261.2 195.0L262.4 195.0L263.6 195.0L264.8 195.0L266.0 195.0L267.2 195.0L268.4 195.0L269.6 195.0L270.8 195.0L272.0 195.0L273.2 195.0L274.5 195.0L275.7 195.0L276.9 195.0L278.1 195.0L279.3 195.0L280.5 195.0L281.7 195.0L282.9 195.0L284.1 195.0L285.3 195.0L286.5 195.0L287.7 195.0L288.9 195.0L290.1 195.0L291.3 195.0L292.5 195.0L293.7 195.0L294.9 195.0L296.1 195.0L297.3 195.0L298.5 195.0L299.7 195.0L300.9 195.0L302.1 195.0L303.4 195.0L304.6 195.0L305.8 195.0L307.0 195.0L308.2 195.0L309.4 195.0L310.6 195.0L311.8 195.0L313.0 195.0L314.2 195.0L315.4 195.0L316.6 195.0L317.8 195.0L319.0 195.0L320.2 195.0L321.4 195.0L322.6 195.0L323.8 195.0L325.0 195.0L326.2 195.0L327.4 195.0L328.6 195.0L329.8 195.0L331.0 195.0L332.3 195.0L333.5 195.0L334.7 195.0L335.9 195.0L337.1 195.0L338.3 195.0L339.5 195.0L340.7 195.0L341.9 195.0L343.1 195.0L344.3 195.0L345.5 195.0L346.7 195.0L347.9 195.0L349.1 195.0L350.3 195.0L351.5 195.0L352.7 195.0L353.9 195.0L355.1 195.0L356.3 195.0L357.5 195.0L358.7 195.0L359.9 195.0L361.2 195.0L362.4 195.0L363.6 195.0L364.8 195.0L366.0 195.0L367.2 195.0L368.4 195.0L369.6 195.0L370.8 195.0L372.0 195.0L373.2 195.0L374.4 195.0L375.6 195.0L376.8 195.0L378.0 195.0L379.2 195.0L380.0 195.0L380.4 195.0L381.6 195.0L382.8 195.0L384.0 195.0L385.3 194.9L386.5 194.9L387.7 194.9L388.9 194.9L390.1 194.8L391.3 194.8L392.5 194.8L393.7 194.8L393.7 194.8L394.9 195.0L396.0 195.3L396.2 195.4L397.1 195.8L398.2 196.4L399.2 197.2L400.0 198.1L400.0 198.1L400.5 199.0L401.0 200.1L401.4 201.3L401.7 202.6L401.9 203.7L401.9 203.8L402.0 204.9L402.1 206.1L402.1 207.3L402.2 208.5L402.2 209.7L402.3 210.9L402.3 212.2L402.3 213.4L402.4 214.6L402.4 215.0L402.4 215.8L402.5 217.0L402.6 218.2L402.6 219.4L402.7 220.6L402.8 221.8L402.8 223.0L402.9 224.2L403.0 225.4L403.0 226.6L403.1 227.5L403.1 227.8L403.2 229.0L403.3 230.2L403.4 231.4L403.5 232.6L403.6 233.8L403.7 235.0L403.8 236.2L403.9 237.4L404.0 238.6L404.1 239.8L404.2 241.0L404.3 242.2L404.4 243.4L404.4 243.7L404.5 244.6L404.5 245.8L404.6 247.0L404.7 248.2L404.8 249.4L404.9 250.6L405.0 251.8L405.0 253.0L405.1 254.2L405.2 255.4L405.3 256.6L405.4 257.8L405.4 259.0L405.5 260.2L405.6 261.4L405.7 262.6L405.7 263.8L405.8 265.0L405.9 266.2L405.9 267.4L406.0 268.6L406.1 269.8L406.1 271.0L406.2 272.2L406.3 273.4L406.3 274.7L406.4 275.9L406.5 277.1L406.5 277.5" stroke="#000000" stroke-dasharray="26.3 8.05 7.5 8.42" stroke-dashoffset="49.89"/>
<path d="M406.5 277.5L406.5 278.3L406.6 279.5L406.7 280.7L406.7 281.9L406.8 283.1L406.8 284.3L406.9 285.5L406.9 286.7L407.0 287.9L407.1 289.1L407.1 290.3L407.2 291.5L407.2 292.5L407.2 292.7L407.3 293.9L407.3 295.1L407.3 296.3L407.4 297.5L407.4 298.7L407.5 299.9L407.5 301.1L407.6 302.3L407.6 303.5L407.6 304.7L407.7 305.9L407.7 307.1L407.8 308.3L407.8 309.5L407.8 310.7L407.9 311.9L407.9 313.1L408.0 314.3L408.0 315.6L408.1 316.8L408.1 318.0L408.1 318.0L408.1 319.2L408.2 320.4L408.2 321.6L408.3 322.8L408.3 324.0L408.4 325.2L408.4 326.4L408.5 327.6L408.5 328.8L408.6 330.0L408.6 331.2L408.7 332.4L408.7 333.6L408.8 334.8L408.8 336.0L408.9 337.2L408.9 338.4L409.0 339.6L409.0 340.8L409.1 342.0L409.1 343.2L409.1 344.4L409.2 345.6L409.2 346.8L409.3 348.0L409.3 349.2L409.4 350.4L409.5 351.6L409.5 352.8L409.6 354.1L409.6 355.3L409.7 356.5L409.7 357.7L409.8 358.9L409.8 360.1L409.9 361.3L409.9 362.5L410.0 363.7L410.0 364.9L410.1 366.1L410.1 367.3L410.2 368.5L410.2 369.7L410.3 370.9L410.3 372.1L410.4 373.3L410.4 374.5L410.5 375.7L410.5 376.9L410.6 378.1L410.6 378.7L410.6 379.3L410.7 380.5L410.7 381.7L410.8 382.9L410.8 384.1L410.9 385.3L410.9 386.5L411.0 387.7L411.0 388.9L411.1 390.1L411.2 391.3L411.2 392.5L411.2 392.5L411.3 393.7L411.3 395.0L411.3 396.2L411.4 397.4L411.4 398.6L411.5 399.8L411.5 401.0L411.5 402.2L411.6 403.4L411.6 404.6L411.7 405.8L411.7 407.0L411.8 408.2L411.9 409.4L411.9 410.0L411.9 410.6L412.0 411.8L412.1 413.0L412.3 414.2L412.4 415.4L412.6 416.6L412.7 417.8L412.9 419.0L413.1 420.1L413.3 421.3L413.4 422.5L413.6 423.7L413.8 424.9L414.0 426.1L414.2 427.3L414.4 428.5L414.4 428.7L414.5 429.7L414.7 430.9L414.9 432.1L415.0 433.3L415.2 434.5L415.3 435.7L415.5 437.0L415.6 438.2L415.8 439.4L416.0 440.6L416.2 441.8L416.4 443.0L416.7 444.1L416.9 445.3L417.2 446.4L417.5 447.5L417.5 447.5L417.9 448.6L418.4 449.6L419.0 450.7L419.7 451.7L420.5 452.7L421.2 453.7L422.0 452.8L422.7 451.8L423.5 450.9L424.2 449.9L425.0 449.0L425.7 448.0L426.5 447.1L427.2 446.1L427.9 445.1L428.0 445.0L428.6 444.1L429.3 443.1L430.0 442.1L430.6 441.1L431.3 440.0L431.9 439.0L432.6 438.0L433.3 437.0L434.0 436.0L434.6 435.0L435.4 434.0L436.1 433.1L436.2 433.0L436.9 432.2L437.7 431.3L438.5 430.4L439.4 429.5L440.3 428.7L441.2 427.9L442.1 427.0L443.0 426.2L443.9 425.4L444.8 424.7L445.0 424.5L445.7 423.9L446.7 423.1L447.6 422.4L448.6 421.6L449.6 420.9L450.6 420.1L451.6 419.4L452.6 418.8L453.6 418.2L454.7 417.6L455.0 417.4L455.7 417.0L456.8 416.5L457.9 416.0L459.0 415.6L460.2 415.1L461.3 414.7L462.5 414.3L463.6 413.9L464.8 413.6L465.0 413.5L466.0 413.2L467.1 412.9L468.3 412.5L469.5 412.2L470.6 411.9L471.8 411.6L473.0 411.4L474.2 411.1L475.4 410.9L476.6 410.7L477.5 410.6L477.8 410.6L479.0 410.4L480.2 410.3L481.4 410.2L482.6 410.1L483.8 410.0L485.0 410.0L486.2 409.9L487.4 409.8L488.7 409.8L489.9 409.7L490.0 409.7L491.1 409.7L492.3 409.6L493.5 409.6L494.7 409.5L495.9 409.5L497.1 409.5L498.3 409.5L499.6 409.4L500.8 409.4L502.0 409.4L503.2 409.3L504.4 409.3L505.0 409.3L505.6 409.3L506.8 409.2L508.0 409.2L509.3 409.2L510.5 409.1L511.7 409.1L512.9 409.1L514.1 409.0L515.3 409.0L516.5 409.0L517.7 408.9L518.9 408.9L520.2 408.9L521.4 408.8L522.6 408.8L523.8 408.8L525.0 408.7L526.2 408.7L527.4 408.7L528.6 408.6L529.8 408.6L530.0 408.6L531.1 408.6L532.3 408.5L533.5 408.5L534.7 408.5L535.9 408.4L537.1 408.4L538.3 408.3L539.5 408.3L540.7 408.3L542.0 408.2L543.2 408.2L544.4 408.2L545.6 408.1L546.8 408.1L548.0 408.1L549.2 408.1L550.4 408.0L551.7 408.0L552.9 408.0L554.1 408.0L555.0 408.0L555.3 408.0L556.5 408.0L557.7 408.0L558.9 408.1L560.1 408.1L561.3 408.1L562.6 408.2L563.8 408.2L565.0 408.3L566.2 408.3L567.4 408.4L567.7 407.2L567.9 406.0L568.2 404.9L568.4 403.7L568.7 402.5L568.9 401.3L569.1 400.1L569.3 398.9L569.5 397.7L569.7 396.5L569.9 395.3L569.9 395.0L570.0 394.1L570.2 392.9L570.3 391.8L570.4 390.6L570.6 389.3L570.7 388.1L570.8 386.9L570.9 385.7L571.0 384.5L571.2 383.3L571.3 382.1L571.4 380.9L571.4 380.6L571.5 379.7L571.6 378.5L571.7 377.3L571.8 376.1L571.9 374.9L572.0 373.7L572.1 372.5L572.1 371.3L572.2 370.1L572.3 368.9L572.4 367.7L572.5 366.5L572.6 365.3L572.7 364.1L572.7 363.7L572.8 362.9L572.9 361.7L572.9 360.5L573.0 359.2L573.1 358.0L573.2 356.8L573.3 355.6L573.4 354.4L573.5 353.2L573.6 352.0L573.7 350.8L573.8 349.6L573.9 348.4L574.0 347.2L574.1 346.0L574.2 344.8L574.3 343.6L574.4 342.4L574.5 341.2L574.6 340.0L574.7 338.8L574.7 337.6L574.8 336.4L574.9 335.2L575.0 334.0L575.1 332.7L575.2 331.5L575.3 330.3L575.3 329.1L575.4 327.9L575.5 326.7L575.6 325.5L575.7 324.3L575.7 323.1L575.8 321.9L575.8 321.9L575.9 320.7L575.9 319.5L576.0 318.3L576.1 317.1L576.1 315.9L576.2 314.7L576.3 313.5L576.3 312.3L576.4 311.0L576.4 309.8L576.5 308.6L576.6 307.4L576.6 306.2L576.7 305.0L576.7 303.8L576.8 302.6L576.9 301.4L576.9 300.2L577.0 299.0L577.0 297.8L577.1 296.6L577.1 295.4L577.2 294.2L577.2 292.9L577.3 291.7L577.3 290.5L577.4 289.3L577.4 288.1L577.5 286.9L577.5 285.7L577.6 284.5L577.7 283.3L577.7 282.1L577.8 280.9L577.8 279.7L577.9 278.5L577.9 277.3L578.0 276.1L578.0 275.0L578.0 274.8L578.1 273.6L578.1 272.4L578.2 271.2L578.2 270.0L578.3 268.8L578.3 267.6L578.3 266.4L578.4 265.2L578.4 264.0L578.5 262.8L578.5 261.6L578.6 260.4L578.6 259.2L578.7 257.9L578.7 256.7L578.7 255.5L578.8 254.3L578.8 253.1L578.9 251.9L578.9 250.7L579.0 249.5L579.0 248.3L579.0 247.1L579.1 245.9L579.1 244.7L579.2 243.5L579.2 242.3L579.3 241.0L579.3 239.8L579.4 238.6L579.4 237.4L579.4 236.2L579.5 235.0L579.5 233.8L579.6 232.6L579.6 231.4L579.7 230.2L579.7 229.0L579.8 227.8L579.8 226.6L579.9 225.4L579.9 225.0L579.9 224.1L580.0 222.9L580.0 221.7L580.1 220.5L580.1 219.3L580.2 218.1L580.3 216.9L580.3 215.7L580.4 214.5L580.4 213.3L580.5 212.1L580.5 210.9L580.6 209.7L580.7 208.5L580.7 207.3L580.8 206.0L580.8 204.8L580.9 203.6L581.0 202.4L581.0 201.2L581.1 200.0L581.1 200.0L581.2 198.8L581.2 197.6L581.3 196.4L581.4 195.2L581.4 194.0L581.5 192.8L581.6 191.6L581.6 190.4L581.7 189.2L581.8 187.9L581.8 186.7L581.9 185.5L582.0 184.3L582.1 183.1L582.1 181.9L582.2 180.7L582.3 179.5L582.4 178.3L582.5 177.1L582.6 175.9L582.7 174.7L582.8 173.5L582.9 172.3L583.0 171.1L583.1 170.0L583.1 169.9L583.2 168.7L583.4 167.5L583.6 166.3L583.7 165.1L583.9 163.9L584.1 162.7L584.3 161.5L584.5 160.3L584.7 159.1L584.9 157.9L585.0 157.5L585.1 156.8L585.3 155.5L585.5 154.3L585.7 153.1L585.8 151.9L586.0 150.7L586.3 149.5L586.5 148.4L586.8 147.2L586.9 147.0L587.2 146.1L587.7 145.1L588.3 144.0L589.0 143.0L589.7 142.0L590.5 141.0" stroke="#000000" stroke-dasharray="26.3 8.05 7.5 8.42" stroke-dashoffset="36.95"/>
<path d="M590.5 141.0L591.7 141.4L592.9 141.9L593.9 142.6L594.4 143.0L594.7 143.3L595.3 144.1L595.9 145.2L596.4 146.3L596.9 147.5L597.4 148.7L597.9 149.8L598.0 150.0L598.5 150.9L599.0 151.9L599.6 153.0L600.2 154.1L600.8 155.1L601.4 156.2L602.0 157.2L602.6 158.2L603.2 159.3L603.7 160.0L603.9 160.3L604.5 161.3L605.2 162.3L605.9 163.3L606.6 164.3L607.3 165.3L608.0 166.4L608.7 167.3L609.4 168.3L610.2 169.3L610.9 170.2L611.7 171.1L612.5 171.9L613.4 172.8L613.7 173.1L614.2 173.6L615.1 174.3L616.0 175.1L617.0 175.8L618.0 176.5L619.0 177.2L620.1 177.8L621.1 178.5L622.2 179.1L623.0 179.5L623.2 179.6L624.3 180.2L625.4 180.7L626.5 181.2L627.6 181.6L628.7 182.1L629.8 182.5L631.0 183.0L632.1 183.4L633.2 183.8L634.4 184.2L635.0 184.4L635.5 184.6L636.7 185.0L637.8 185.3L639.0 185.7L640.1 186.0L641.3 186.4L642.4 186.7L643.6 187.1L644.7 187.4L645.9 187.7L647.1 188.0L647.5 188.1L648.3 188.3L649.5 188.5L650.8 188.7L652.1 188.9L653.3 189.2L654.3 189.5L655.0 189.8L655.2 189.9L656.1 190.8L656.8 191.9L657.2 193.0L657.2 193.0L657.3 194.1L657.4 195.3L657.5 196.5L657.5 197.7L657.6 198.9L657.6 200.1L657.7 201.4L657.7 202.6L657.8 203.9L657.8 205.0L657.8 205.1L657.9 206.3L657.9 207.5L658.0 208.7L658.0 209.9L658.1 211.1L658.1 212.3L658.2 213.5L658.2 214.7L658.3 215.9L658.4 217.1L658.4 218.3L658.5 219.5L658.5 220.0L658.5 220.7L658.6 221.9L658.7 223.1L658.8 224.3L658.8 225.5L658.9 226.7L659.0 227.9L659.1 229.1L659.2 230.3L659.3 231.5L659.4 232.7L659.5 233.9L659.6 235.1L659.7 236.3L659.8 237.5L659.9 238.7L660.0 239.9L660.1 241.1L660.2 242.3L660.3 243.5L660.4 244.7L660.5 245.9L660.6 247.1L660.6 248.3L660.7 249.5L660.8 250.8L660.9 252.0L661.0 253.2L661.0 254.4L661.1 255.6L661.2 256.8L661.2 258.0L661.3 259.2L661.3 260.0L661.3 260.4L661.4 261.6L661.4 262.8L661.4 264.0L661.5 265.2L661.5 266.4L661.5 267.6L661.6 268.8L661.6 270.0L661.6 271.2L661.6 272.4L661.7 273.6L661.7 274.8L661.7 276.0L661.7 277.2L661.8 278.4L661.8 279.6L661.8 280.8L661.8 282.1L661.8 283.3L661.9 284.5L661.9 285.7L661.9 286.9L661.9 288.1L661.9 289.3L662.0 290.5L662.0 291.7L662.0 292.9L662.0 294.1L662.0 295.3L662.1 296.5L662.1 297.7L662.1 298.9L662.1 300.1L662.2 301.3L662.2 302.5L662.2 303.7L662.2 304.9L662.3 306.1L662.3 307.4L662.3 308.6L662.4 309.8L662.4 311.0L662.5 312.2L662.5 313.4L662.5 314.6L662.6 315.8L662.6 316.0" stroke="#000000" stroke-dasharray="26.3 8.05 7.5 8.42" stroke-dashoffset="48.24"/>
<path d="M662.6 316.0L662.6 317.0L662.7 318.2L662.8 319.4L662.9 320.6L663.0 321.8L663.1 323.0L663.2 324.2L663.3 325.4L663.5 326.6L663.6 327.8L663.7 329.0L663.8 330.2L664.0 331.4L664.1 332.6L664.2 333.8L664.3 335.0L664.4 336.2L664.5 337.4L664.6 338.6L664.6 338.7L664.7 339.8L664.7 341.0L664.8 342.2L664.9 343.4L664.9 344.6L665.0 345.8L665.1 347.0L665.1 348.2L665.2 349.4L665.2 350.6L665.3 351.8L665.3 353.0L665.4 354.2L665.4 355.4L665.5 356.6L665.5 357.8L665.6 359.0L665.6 360.2L665.6 361.4L665.7 362.6L665.7 363.8L665.8 365.0L665.8 366.2L665.9 367.5L665.9 368.7L666.0 369.9L666.0 371.1L666.0 372.3L666.1 373.5L666.1 374.7L666.2 375.9L666.2 377.1L666.3 378.3L666.3 379.5L666.4 380.7L666.5 381.9L666.5 383.1L666.6 384.3L666.6 385.5L666.7 386.7L666.8 387.9L666.8 389.1L666.9 390.0L666.9 390.3L667.0 391.5L667.1 392.7L667.2 393.9L667.3 395.1L667.4 396.3L667.5 397.5L667.5 397.5L667.6 398.7L667.7 399.9L667.8 401.1L668.0 402.3L668.1 403.5L668.2 404.7L668.3 405.9L668.5 407.1L668.6 408.3L668.7 409.5L668.8 410.7L669.0 411.9L669.1 413.1L669.2 414.3L669.3 415.5L669.4 416.2L669.4 416.7L669.6 417.9L669.7 419.1L669.8 420.3L669.9 421.5L670.0 422.7L670.1 423.9L670.2 425.1L670.3 426.3L670.4 427.5L670.5 428.7L670.6 429.9L670.7 431.1L670.9 432.3L671.0 433.5L671.2 434.7L671.2 435.0L671.3 435.9L671.5 437.1L671.7 438.3L671.9 439.5L672.2 440.7L672.4 441.9L672.7 443.1L673.0 444.3L673.4 445.4L673.7 446.2L673.8 446.4L674.3 447.4L675.0 448.4L675.8 449.4L676.6 450.3L677.5 451.2L678.3 450.2L679.0 449.2L679.8 448.3L680.5 447.3L681.3 446.3L682.1 445.3L682.8 444.4L683.6 443.4L684.3 442.4L685.1 441.4L685.9 440.4L686.2 440.0L686.6 439.5L687.4 438.5L688.1 437.5L688.9 436.5L689.6 435.5L690.3 434.5L691.1 433.5L691.8 432.5L692.6 431.6L693.4 430.6L694.2 429.7L695.0 428.7L695.0 428.7L695.8 427.8L696.6 426.8L697.4 425.9L698.3 424.9L699.1 423.9L700.0 423.0L700.8 422.1L701.7 421.2L702.7 420.4L703.6 419.7L704.6 419.0L705.0 418.7L705.6 418.4L706.6 417.8L707.7 417.3L708.9 416.8L710.1 416.3L711.3 415.9L712.4 415.5L713.6 415.0L713.7 415.0L714.8 414.6L715.9 414.2L717.1 413.8L718.3 413.4L719.5 413.0L720.7 412.6L721.8 412.2L723.0 411.9L724.2 411.6L725.4 411.3L726.2 411.2L726.7 411.1L727.9 410.9L729.1 410.7L730.3 410.6L731.5 410.4L732.8 410.3L734.0 410.2L735.3 410.1L736.5 410.0L737.4 409.1L738.2 408.1L738.9 407.1L739.4 406.0L739.8 405.0L739.8 405.0L740.0 403.8L740.2 402.7L740.4 401.5L740.5 400.2L740.7 399.0L740.8 397.8L740.8 397.5L740.9 396.6L741.0 395.4L741.1 394.2L741.2 393.0L741.3 391.8L741.4 390.6L741.4 389.4L741.5 388.2L741.6 387.0L741.7 385.8L741.8 384.6L741.8 383.4L741.9 382.1L742.0 380.9L742.1 379.7L742.1 378.5L742.2 377.3L742.3 376.1L742.3 374.9L742.4 373.7L742.5 372.5L742.5 371.3L742.6 370.1L742.6 368.9L742.7 367.7L742.7 366.5L742.8 365.3L742.9 364.1L742.9 362.9L743.0 361.6L743.0 360.4L743.1 359.2L743.1 358.0L743.2 356.8L743.2 355.6L743.3 354.4L743.3 353.2L743.4 352.0L743.4 350.8L743.5 349.6L743.6 348.4L743.6 347.2L743.7 346.0L743.7 344.7L743.8 343.5L743.8 342.3L743.9 341.1L744.0 339.9L744.0 338.7L744.1 337.5L744.1 336.3L744.2 335.1L744.3 333.9L744.3 332.7L744.4 331.5L744.5 330.3L744.5 330.0L744.6 329.1L744.6 327.9L744.7 326.7L744.8 325.5L744.9 324.3L744.9 323.0L745.0 321.8L745.1 320.6L745.2 319.4L745.3 318.2L745.3 317.0L745.4 315.8L745.5 314.6L745.6 313.4L745.7 312.2L745.7 311.0L745.8 309.8L745.9 308.6L746.0 307.4L746.1 306.2L746.2 305.0L746.2 303.8L746.3 302.6L746.4 301.4L746.5 300.2L746.6 299.0L746.7 297.8L746.8 296.6L746.9 295.3L746.9 294.1L747.0 292.9L747.1 291.7L747.2 290.5L747.3 289.3L747.4 288.1L747.5 286.9L747.5 285.7L747.6 284.5L747.7 283.3L747.8 282.1L747.9 280.9L748.0 279.7L748.1 278.5L748.1 277.3L748.2 276.1L748.3 274.9L748.4 273.7L748.5 272.5L748.6 271.3L748.7 270.1L748.7 268.9L748.8 267.6L748.9 266.4L749.0 265.2L749.1 264.0L749.1 262.8L749.2 261.6L749.3 260.4L749.4 259.2L749.5 258.0L749.5 257.4L749.5 256.8L749.6 255.6L749.7 254.4L749.8 253.2L749.8 252.0L749.9 250.8L750.0 249.6L750.1 248.4L750.1 247.2L750.2 246.0L750.3 244.8L750.4 243.6L750.4 242.3L750.5 241.2L750.5 241.1L750.6 239.9L750.6 238.7L750.7 237.5L750.8 236.3L750.9 235.1L750.9 233.9L751.0 232.7L751.1 231.5L751.2 230.3L751.2 229.1L751.3 227.9L751.4 226.7L751.4 225.5L751.5 224.3L751.6 223.1L751.6 221.9L751.7 220.7L751.8 219.5L751.9 218.2L751.9 217.0L752.0 215.8L752.0 214.6L752.1 213.4L752.2 212.2L752.2 211.0L752.3 209.8L752.3 208.6L752.4 207.5L752.4 207.4L752.5 206.2L752.5 205.0L752.6 203.8L752.6 202.6L752.6 201.4L752.7 200.2L752.7 198.9L752.8 197.7L752.8 196.5L752.9 195.3L752.9 194.1L752.9 192.9L753.0 191.7L753.0 190.5L753.1 189.3L753.2 188.1L753.2 187.5L753.2 186.9L753.3 185.7L753.4 184.5L753.5 183.3L753.6 182.1L753.7 180.9L753.8 179.7L753.9 178.5L754.0 177.3L754.1 176.1L754.3 174.9L754.4 173.7L754.5 172.5L754.5 172.5L754.6 171.3L754.7 170.1L754.9 168.9L755.0 167.7L755.1 166.5L755.3 165.3L755.4 164.1L755.5 162.9L755.7 161.7L755.8 160.6L755.8 160.5L756.0 159.3L756.1 158.0L756.2 156.8L756.4 155.6L756.5 154.4L756.7 153.2L756.9 152.0L757.0 150.8L757.3 149.6L757.5 148.5L757.7 147.3L757.8 147.0L758.0 146.1L758.4 144.9L758.8 143.6L759.4 142.5L760.0 141.5L760.3 141.2L760.7 140.9L761.8 140.3L763.1 139.9L764.0 139.8L764.2 139.8L765.3 140.1L766.4 140.6L767.5 141.5" stroke="#000000" stroke-dasharray="26.3 8.05 7.5 8.42" stroke-dashoffset="37.61"/>
<path d="M767.5 141.5L767.9 142.6L768.3 143.8L768.6 144.9L769.0 146.1L769.2 147.0L769.3 147.3L769.5 148.4L769.8 149.6L770.0 150.8L770.3 152.0L770.5 152.5L770.7 153.1L771.2 154.2L771.8 155.2L772.5 156.3L773.1 157.3L773.5 157.8L773.8 158.3L774.6 159.2L775.3 160.1L776.1 161.0L776.9 161.9L777.4 162.5L777.7 162.9L778.4 163.8L779.1 164.8L779.8 165.8L780.5 166.8L781.2 167.8L781.9 168.8L782.6 169.7L783.4 170.7L784.1 171.6L784.9 172.5L784.9 172.5L785.7 173.4L786.6 174.3L787.4 175.2L788.3 176.0L789.2 176.9L790.1 177.7L791.0 178.4L792.0 179.2L793.0 179.8L793.3 180.0L794.0 180.4L795.0 180.9L796.1 181.5L797.2 182.0L798.3 182.4L799.4 182.9L800.6 183.3L801.7 183.8L802.9 184.1L804.0 184.5L805.2 184.8L805.8 185.0L806.3 185.1L807.5 185.4L808.7 185.7L809.8 186.0L811.0 186.3L812.2 186.6L813.3 186.8L814.5 187.1L815.7 187.3L816.9 187.5L818.1 187.7L819.3 188.0L820.5 188.2L821.7 188.4L822.9 188.6L824.0 188.8L825.2 188.9L826.4 189.1L827.6 189.3L828.8 189.4L830.0 189.6L830.0 189.6L831.2 189.8L832.4 189.9L833.6 190.1L834.8 190.2L836.0 190.3L837.2 190.5L838.4 190.6L839.6 190.8L840.8 190.9L842.0 191.0L843.2 191.1L844.4 191.2L845.6 191.4L846.8 191.5L848.0 191.6L849.2 191.7L850.4 191.8L851.6 191.9L852.8 191.9L854.0 192.0L855.0 192.1L855.2 192.1L856.4 192.2L857.6 192.3L858.8 192.3L860.0 192.4L861.2 192.5L862.4 192.5L863.6 192.6L864.8 192.7L866.0 192.7L867.2 192.8L868.4 192.8L869.6 192.9L870.8 192.9L872.0 193.0L873.2 193.0L874.4 193.1L875.6 193.1L876.8 193.2L878.0 193.2L879.2 193.3L880.0 193.3L880.4 193.3L881.6 193.4L882.8 193.4L884.0 193.4L885.2 193.5L886.4 193.5L887.6 193.6L888.9 193.6L890.1 193.6L891.3 193.7L892.5 193.7L893.7 193.8L894.9 193.8L896.1 193.8L897.3 193.9L898.5 193.9L899.7 193.9L900.9 194.0L902.1 194.0L903.3 194.0L904.5 194.1L905.7 194.1L906.9 194.1L908.1 194.2L909.3 194.2L910.5 194.2L911.7 194.3L912.9 194.3L914.1 194.3L915.3 194.3L916.5 194.4L917.7 194.4L918.9 194.4L920.1 194.4L921.3 194.5L922.6 194.5L923.8 194.5L925.0 194.5L926.2 194.5L927.4 194.6L928.6 194.6L929.8 194.6L930.0 194.6L931.0 194.6L932.2 194.6L933.4 194.6L934.6 194.7L935.8 194.7L937.0 194.7L938.2 194.7L939.4 194.7L940.6 194.7L941.8 194.7L943.0 194.7L944.2 194.7L945.4 194.7L946.6 194.7L947.8 194.8L949.0 194.8L950.2 194.8L951.4 194.8L952.6 194.8L953.9 194.8L955.1 194.8L956.3 194.8L957.5 194.8L958.7 194.8L959.9 194.8L961.1 194.8L962.3 194.8L963.5 194.9L964.7 194.9L965.9 194.9L967.1 194.9L968.3 194.9L969.5 194.9L970.7 194.9L971.9 194.9L973.1 194.9L974.3 194.9L975.5 194.9L976.7 195.0L977.9 195.0L979.1 195.0L980.0 195.0L980.3 195.0L981.6 195.0L982.8 195.0L984.1 195.0L985.4 195.1L986.7 195.1L988.0 195.1L989.3 195.1L990.5 195.1L991.7 195.2L992.8 195.2L993.8 195.2L994.8 195.3L994.9 195.3L995.7 195.6L996.7 196.3L997.5 197.4L998.3 198.6L998.9 199.7L999.0 200.0L999.3 200.8L999.6 201.9L999.9 203.1L1000.2 204.3L1000.4 205.5L1000.5 206.3L1000.5 206.7L1000.7 207.9L1000.8 209.1L1000.9 210.3L1001.0 211.5L1001.1 212.7L1001.2 213.9L1001.3 215.1L1001.4 216.3L1001.5 217.5L1001.5 218.7L1001.6 219.9L1001.7 221.1L1001.7 222.3L1001.8 223.5L1001.8 224.7L1001.9 225.9L1002.0 227.1L1002.0 228.3L1002.1 229.5L1002.1 230.7L1002.2 231.9L1002.2 233.1L1002.3 234.3L1002.3 235.6L1002.4 236.6L1002.4 236.8L1002.5 238.0L1002.5 239.2L1002.6 240.4L1002.6 241.6L1002.7 242.8L1002.8 244.0L1002.8 245.2L1002.9 246.4L1002.9 247.6L1003.0 248.8L1003.0 250.0L1003.1 251.2L1003.1 252.4L1003.2 253.6L1003.2 254.8L1003.3 256.0L1003.4 257.2L1003.4 258.4L1003.5 259.6L1003.5 260.8L1003.5 262.0L1003.6 263.2L1003.6 264.4L1003.7 265.6L1003.7 266.8L1003.8 268.0L1003.8 269.2L1003.9 270.4L1003.9 271.6L1004.0 272.8L1004.0 274.0L1004.1 275.2L1004.1 276.4L1004.1 277.6L1004.2 278.9L1004.2 280.1L1004.3 281.3L1004.3 282.5L1004.4 283.7L1004.4 284.9L1004.5 286.1L1004.5 287.3L1004.5 288.5L1004.6 289.7L1004.6 290.9L1004.7 292.1L1004.7 293.3L1004.8 294.5L1004.8 295.7L1004.8 296.9L1004.9 298.1L1004.9 299.3L1005.0 300.5L1005.0 301.7L1005.1 302.9L1005.1 304.1L1005.2 305.3L1005.2 306.5L1005.3 307.7L1005.3 308.9L1005.3 310.1L1005.4 311.3L1005.4 312.5L1005.5 313.7L1005.5 314.9L1005.6 316.2L1005.6 317.4L1005.7 318.6L1005.7 319.8L1005.8 321.0L1005.8 322.2L1005.9 323.4L1005.9 324.6L1006.0 325.8L1006.0 327.0L1006.1 328.2L1006.2 329.4L1006.2 330.6L1006.3 331.8L1006.3 333.0L1006.4 334.2L1006.4 335.4L1006.5 336.6L1006.5 336.6" stroke="#000000" stroke-dasharray="26.3 8.05 7.5 8.42" stroke-dashoffset="27.06"/>
<path d="M1006.5 336.6L1006.6 337.8L1006.6 339.0L1006.7 340.2L1006.8 341.4L1006.8 342.6L1006.9 343.8L1007.0 345.0L1007.1 346.2L1007.2 347.4L1007.2 348.6L1007.3 349.8L1007.4 351.0L1007.5 352.2L1007.6 353.4L1007.7 354.6L1007.8 355.8L1007.8 357.0L1007.9 358.2L1008.0 359.4L1008.1 360.6L1008.2 361.8L1008.3 363.0L1008.4 364.2L1008.4 365.4L1008.5 366.6L1008.6 367.8L1008.7 369.0L1008.8 370.2L1008.8 371.4L1008.9 372.6L1009.0 373.8L1009.0 375.1L1009.1 376.3L1009.1 377.5L1009.2 378.7L1009.2 379.9L1009.3 381.1L1009.3 382.3L1009.4 383.5L1009.4 384.7L1009.4 385.0L1009.4 385.9L1009.4 387.1L1009.5 388.3L1009.5 389.5L1009.5 390.7L1009.5 391.9L1009.5 393.1L1009.5 394.3L1009.5 395.5L1009.6 396.7L1009.6 397.9L1009.6 399.1L1009.6 400.3L1009.6 401.5L1009.6 402.7L1009.7 403.9L1009.7 405.1L1009.7 406.2L1009.7 406.3L1009.7 407.5L1009.8 408.7L1009.8 410.0L1009.9 411.2L1009.9 412.4L1010.0 413.6L1010.0 414.8L1010.1 416.0L1010.2 417.2L1010.3 418.4L1010.4 419.6L1010.5 420.8L1010.6 422.0L1010.6 422.5L1010.7 423.2L1010.8 424.4L1011.0 425.5L1011.2 426.7L1011.4 427.9L1011.6 429.1L1011.8 430.3L1012.0 431.5L1012.2 432.5L1012.2 432.7L1012.4 433.9L1012.6 435.1L1012.8 436.3L1013.0 437.5L1013.2 438.7L1013.5 439.9L1013.7 441.1L1014.0 442.2L1014.3 443.3L1014.4 443.7L1014.6 444.4L1015.1 445.5L1015.6 446.5L1016.2 447.6L1016.9 448.6L1017.6 449.6L1018.4 450.6L1019.2 451.6L1020.0 452.5L1020.7 451.5L1021.3 450.4L1022.0 449.4L1022.6 448.4L1023.3 447.3L1024.0 446.3L1024.7 445.3L1025.4 444.3L1026.0 443.3L1026.7 442.3L1027.4 441.3L1027.5 441.2L1028.2 440.3L1028.9 439.3L1029.6 438.3L1030.3 437.3L1031.0 436.3L1031.7 435.3L1032.5 434.3L1033.2 433.3L1034.0 432.4L1034.8 431.5L1035.0 431.2L1035.6 430.5L1036.4 429.6L1037.2 428.7L1038.1 427.8L1039.0 427.0L1039.8 426.1L1040.7 425.3L1041.6 424.5L1042.5 423.7L1042.6 423.7L1043.5 422.8L1044.4 422.0L1045.4 421.2L1046.3 420.4L1047.3 419.6L1048.3 418.8L1049.3 418.0L1050.3 417.3L1051.3 416.7L1052.4 416.2L1053.5 415.7L1053.7 415.6L1054.5 415.3L1055.7 415.0L1056.8 414.6L1058.0 414.4L1059.2 414.1L1060.4 413.8L1061.7 413.6L1062.9 413.4L1064.1 413.1L1065.3 412.9L1066.6 412.7L1067.5 412.5L1067.8 412.4L1069.0 412.2L1070.2 412.0L1071.4 411.8L1072.6 411.6L1073.8 411.4L1075.0 411.2L1076.2 410.9L1077.4 410.6L1077.5 410.6L1078.5 410.3L1079.7 409.8L1080.8 409.3L1081.9 408.7L1082.1 407.5L1082.3 406.3L1082.5 405.1L1082.7 403.9L1082.8 402.7L1082.9 402.0L1082.9 401.5L1083.1 400.3L1083.2 399.1L1083.3 397.9L1083.4 396.7L1083.5 395.5L1083.6 394.3L1083.7 393.1L1083.8 391.9L1083.9 390.7L1084.0 389.5L1084.1 388.3L1084.2 387.1L1084.3 385.9L1084.4 384.7L1084.5 383.5L1084.6 382.3L1084.7 381.1L1084.8 379.8L1084.8 378.6L1084.9 377.4L1085.0 376.2L1085.1 375.0L1085.2 373.8L1085.2 372.6L1085.3 371.4L1085.4 370.2L1085.5 369.0L1085.5 367.8L1085.6 366.6L1085.7 365.4L1085.8 364.1L1085.8 362.9L1085.9 361.7L1086.0 360.5L1086.0 359.3L1086.1 358.1L1086.2 356.9L1086.2 355.7L1086.3 354.5L1086.3 353.3L1086.4 352.0L1086.5 350.8L1086.5 349.6L1086.6 348.4L1086.6 347.2L1086.7 346.0L1086.8 344.8L1086.8 343.6L1086.9 342.4L1086.9 341.2L1087.0 339.9L1087.0 338.7L1087.1 337.5L1087.2 336.3L1087.2 335.1L1087.3 333.9L1087.3 332.7L1087.4 331.5L1087.4 330.3L1087.5 329.1L1087.6 327.9L1087.6 326.6L1087.7 325.4L1087.7 324.2L1087.8 323.0L1087.8 322.5L1087.8 321.8L1087.9 320.6L1087.9 319.4L1088.0 318.2L1088.0 317.0L1088.1 315.8L1088.1 314.6L1088.2 313.3L1088.2 312.1L1088.3 310.9L1088.3 309.7L1088.4 308.5L1088.4 307.3L1088.4 306.1L1088.5 304.9L1088.5 303.7L1088.6 302.5L1088.6 301.2L1088.6 300.0L1088.7 298.8L1088.7 297.6L1088.7 296.4L1088.8 295.2L1088.8 294.0L1088.8 292.8L1088.9 291.6L1088.9 290.3L1088.9 289.1L1089.0 287.9L1089.0 286.7L1089.0 285.5L1089.1 284.3L1089.1 283.1L1089.1 281.9L1089.2 280.6L1089.2 279.4L1089.2 278.2L1089.3 277.0L1089.3 275.8L1089.3 274.6L1089.4 273.4L1089.4 272.2L1089.4 271.0L1089.5 269.7L1089.5 268.5L1089.5 267.3L1089.6 266.1L1089.6 264.9L1089.6 263.7L1089.7 262.5L1089.7 261.3L1089.7 260.1L1089.8 258.8L1089.8 257.6L1089.8 256.4L1089.9 255.2L1089.9 254.0L1090.0 252.8L1090.0 251.6L1090.0 250.4L1090.1 249.2L1090.1 248.0L1090.2 246.8L1090.2 245.5L1090.3 244.3L1090.3 243.1L1090.4 241.9L1090.4 240.7L1090.5 239.5L1090.5 238.3L1090.6 237.1L1090.7 235.9L1090.7 234.7L1090.8 233.5L1090.8 232.3L1090.9 231.1L1091.0 229.9L1091.0 228.7L1091.1 227.5L1091.2 226.3L1091.3 225.1L1091.3 223.9L1091.4 222.6L1091.5 221.4L1091.6 220.2L1091.6 220.0L1091.7 219.0L1091.8 217.8L1092.0 216.6L1092.1 215.5L1092.3 214.3L1092.5 213.1L1092.8 211.9L1093.0 210.7L1093.2 209.5L1093.4 208.3L1093.6 207.1L1093.8 205.9L1093.9 204.7L1094.1 203.5L1094.1 203.3L1094.2 202.3L1094.3 201.1L1094.4 199.9L1094.5 198.7L1094.6 197.5L1094.7 196.3L1094.7 195.1L1094.8 193.8L1094.9 192.6L1095.0 191.4L1095.0 190.2L1095.1 189.0L1095.2 187.8L1095.3 186.6L1095.3 186.6L1095.4 185.4L1095.5 184.2L1095.6 183.0L1095.6 181.8L1095.7 180.6L1095.8 179.4L1095.9 178.1L1096.0 176.9L1096.1 175.7L1096.2 174.5L1096.3 173.3L1096.4 172.1L1096.5 170.9L1096.6 170.0L1096.6 169.7L1096.8 168.5L1096.9 167.3L1097.0 166.1L1097.2 164.9L1097.3 163.7L1097.5 162.5L1097.7 161.3L1097.8 160.1L1098.0 158.9L1098.2 157.7L1098.4 156.5L1098.7 155.3L1098.9 154.1L1099.1 153.3L1099.2 153.0L1099.5 151.8L1099.8 150.7L1100.2 149.5L1100.6 148.4L1101.0 147.3" stroke="#000000" stroke-dasharray="26.3 8.05 7.5 8.42" stroke-dashoffset="21.56"/>
<path d="M1101.0 147.3L1101.5 146.1L1102.0 145.0L1102.5 143.9L1103.1 142.8L1103.6 141.7L1104.4 142.6L1105.1 143.6L1105.9 144.5L1106.6 145.5L1107.0 146.0L1107.3 146.4L1108.0 147.4L1108.6 148.4L1109.2 149.5L1109.9 150.5L1110.5 151.5L1111.1 152.5L1111.6 153.3L1111.8 153.6L1112.4 154.6L1113.0 155.6L1113.7 156.7L1114.3 157.7L1114.9 158.8L1115.5 159.8L1116.1 160.9L1116.7 162.0L1117.4 163.0L1118.0 164.0L1118.7 165.0L1119.3 166.0L1120.0 167.0L1120.7 167.9L1121.5 168.8L1122.2 169.7L1122.5 170.0L1123.0 170.6L1123.9 171.4L1124.7 172.2L1125.6 173.0L1126.5 173.8L1127.5 174.6L1128.5 175.3L1129.5 176.0L1130.5 176.8L1131.5 177.4L1132.5 178.1L1133.5 178.7L1134.1 179.1L1134.5 179.3L1135.5 179.9L1136.6 180.5L1137.6 181.1L1138.7 181.7L1139.8 182.3L1140.9 182.8L1142.0 183.3L1143.1 183.8L1144.2 184.2L1145.4 184.6L1146.5 185.0L1146.6 185.0L1147.6 185.3L1148.8 185.6L1149.9 185.9L1151.1 186.1L1152.2 186.4L1153.4 186.6L1154.6 186.9L1155.8 187.1L1157.0 187.3L1158.2 187.5L1159.4 187.7L1160.6 187.9L1161.8 188.1L1163.0 188.3L1164.2 188.5L1165.3 188.7L1166.5 188.8L1167.7 189.0L1168.3 189.1L1168.9 189.2L1170.1 189.4L1171.3 189.5L1172.5 189.7L1173.7 189.9L1174.9 190.0L1176.1 190.2L1177.3 190.4L1178.4 190.5L1179.6 190.7L1180.8 190.8L1182.0 191.0L1183.2 191.1L1184.4 191.2L1185.6 191.4L1186.8 191.5L1188.0 191.6L1189.2 191.7L1190.4 191.8L1191.6 191.9L1192.8 192.0L1193.3 192.0L1194.0 192.0L1195.2 192.1L1196.4 192.2L1197.6 192.2L1198.8 192.3L1200.0 192.4L1201.2 192.4L1202.4 192.5L1203.6 192.5L1204.8 192.6L1206.0 192.6L1207.2 192.6L1208.4 192.7L1209.6 192.7L1210.8 192.8L1212.0 192.8L1213.2 192.9L1214.4 192.9L1215.6 192.9L1216.8 193.0L1218.0 193.0L1219.2 193.0L1220.4 193.1L1221.6 193.1L1222.8 193.2L1224.0 193.2L1225.2 193.2L1226.4 193.3L1226.6 193.3L1227.6 193.3L1228.8 193.4L1230.0 193.4L1231.2 193.5L1232.4 193.5L1233.6 193.6L1234.8 193.6L1236.0 193.7L1237.2 193.7L1238.4 193.8L1239.6 193.8L1240.8 193.9L1242.0 193.9L1243.2 194.0L1244.4 194.0L1245.6 194.1L1246.8 194.1L1248.0 194.2L1249.2 194.2L1250.4 194.3L1251.6 194.3L1252.8 194.3L1254.0 194.4L1255.2 194.4L1256.4 194.4L1257.6 194.5L1258.9 194.5L1259.9 194.5L1260.1 194.5L1261.3 194.5L1262.5 194.5L1263.7 194.6L1264.9 194.6L1266.1 194.6L1267.3 194.6L1268.5 194.6L1269.7 194.6L1270.9 194.7L1272.1 194.7L1273.3 194.7L1274.5 194.7L1275.7 194.7L1276.9 194.7L1278.1 194.7L1279.3 194.8L1280.5 194.8L1281.7 194.8L1282.9 194.8L1284.1 194.8L1285.3 194.8L1286.5 194.8L1287.7 194.8L1288.9 194.8L1290.1 194.9L1291.3 194.9L1292.5 194.9L1293.7 194.9L1294.9 194.9L1296.1 194.9L1297.3 194.9L1298.5 194.9L1299.7 194.9L1300.9 194.9L1302.1 194.9L1303.3 195.0L1304.5 195.0L1305.7 195.0L1306.9 195.0L1308.1 195.0L1309.3 195.0L1309.9 195.0L1310.5 195.0L1311.7 195.0L1312.9 195.0L1314.1 195.0L1315.3 195.0L1316.5 195.0L1317.7 195.1L1318.9 195.1L1320.1 195.1L1321.3 195.1L1322.5 195.1L1323.7 195.1L1324.9 195.1L1326.1 195.1L1327.4 195.1L1328.6 195.1L1329.8 195.1L1331.0 195.1L1332.2 195.1L1333.4 195.1L1334.6 195.2L1335.8 195.2L1337.0 195.2L1338.2 195.2L1339.4 195.2L1340.6 195.2L1341.8 195.2L1343.0 195.2L1344.2 195.2L1345.4 195.2L1346.6 195.2L1347.8 195.2L1349.0 195.2L1350.2 195.2L1351.4 195.2L1352.6 195.2L1353.8 195.2L1355.0 195.3L1356.2 195.3L1357.4 195.3L1358.6 195.3L1359.8 195.3L1361.0 195.3L1362.2 195.3L1363.4 195.3L1364.6 195.3L1365.8 195.3L1367.0 195.3L1368.2 195.3L1369.4 195.3L1370.6 195.3L1371.5 195.3L1371.8 195.3L1373.0 195.3L1374.2 195.3L1375.4 195.3L1376.6 195.3L1377.8 195.3L1379.0 195.3L1380.2 195.3L1381.4 195.3L1382.6 195.3L1383.8 195.3L1385.0 195.3L1386.2 195.3L1387.4 195.3L1388.6 195.3L1389.8 195.3L1391.0 195.3L1392.3 195.3L1393.5 195.3L1394.7 195.3L1395.9 195.3L1397.1 195.3L1398.3 195.3L1399.5 195.3L1400.7 195.3L1401.9 195.3L1403.1 195.3L1404.3 195.3L1405.5 195.3L1406.7 195.3L1407.9 195.3L1409.1 195.4L1410.3 195.4L1411.5 195.4L1412.7 195.4L1413.9 195.4L1415.1 195.4L1416.3 195.4L1417.5 195.4L1418.7 195.4L1419.9 195.4L1421.1 195.4L1422.3 195.4L1423.5 195.4L1424.7 195.4L1425.9 195.4L1427.1 195.4L1428.3 195.4L1429.5 195.4L1430.7 195.4L1431.9 195.4L1433.1 195.4L1434.3 195.4L1435.5 195.4L1436.7 195.4L1437.9 195.4L1439.1 195.4L1440.3 195.4L1441.5 195.4L1442.7 195.4L1443.9 195.4L1445.1 195.4L1446.3 195.4L1447.5 195.4L1448.7 195.4L1450.0 195.4L1451.2 195.4L1452.4 195.4L1453.6 195.4L1454.8 195.4L1456.0 195.4L1457.2 195.4L1458.4 195.4L1459.6 195.4L1460.8 195.4L1462.0 195.4L1463.2 195.4L1464.4 195.4L1465.6 195.4L1466.8 195.4L1468.0 195.4L1469.2 195.4L1470.4 195.4L1471.6 195.4L1472.8 195.4L1474.0 195.4L1475.2 195.4L1476.4 195.4L1477.6 195.4L1478.8 195.4L1480.0 195.4L1481.2 195.4L1482.4 195.4L1483.6 195.4L1484.8 195.4L1486.0 195.4L1487.2 195.4L1488.4 195.4L1489.6 195.4L1490.8 195.4L1492.0 195.4L1493.2 195.4L1494.4 195.4L1495.6 195.4L1496.8 195.4L1498.0 195.4L1499.2 195.4L1500.4 195.4L1501.6 195.4L1502.8 195.4L1504.1 195.4L1505.3 195.4L1506.5 195.4L1507.7 195.4L1508.9 195.4L1510.1 195.4L1511.3 195.4L1512.5 195.4L1513.7 195.4L1514.9 195.4L1516.1 195.4L1517.3 195.4L1518.5 195.4L1519.7 195.4L1520.9 195.4L1522.1 195.4L1523.3 195.4L1524.5 195.4L1525.7 195.4L1526.9 195.4L1528.1 195.4L1529.3 195.4L1530.5 195.4L1531.7 195.4L1532.9 195.4L1534.1 195.4L1535.3 195.4L1536.5 195.4L1537.7 195.4L1538.9 195.4L1540.1 195.4L1541.3 195.4L1542.5 195.4L1543.7 195.4L1544.9 195.4L1546.1 195.4L1547.3 195.4L1548.5 195.4L1549.7 195.4L1550.9 195.4L1552.1 195.4L1553.3 195.4L1554.5 195.4L1555.7 195.4L1556.9 195.4L1558.2 195.4L1559.4 195.4L1560.6 195.4L1561.8 195.4L1563.0 195.4L1564.2 195.4L1565.4 195.4L1566.6 195.4L1567.8 195.4L1569.0 195.4L1570.2 195.4L1571.4 195.4L1572.6 195.4L1573.8 195.4L1575.0 195.4L1576.2 195.4L1577.4 195.4L1578.6 195.4L1579.8 195.4L1581.0 195.4L1582.2 195.4L1583.4 195.4L1584.6 195.4L1585.8 195.4L1587.0 195.4L1588.2 195.4L1589.4 195.4L1590.6 195.4L1591.8 195.4L1593.0 195.4L1594.2 195.4L1595.4 195.4L1596.6 195.4L1597.8 195.4L1599.0 195.4L1600.2 195.4L1601.4 195.4L1602.6 195.4L1603.8 195.4L1605.0 195.4L1606.2 195.4L1607.4 195.4L1608.6 195.4L1609.8 195.4L1611.0 195.4L1612.2 195.4L1613.4 195.4L1614.6 195.4L1615.8 195.4L1617.1 195.4L1618.3 195.4L1619.5 195.4L1620.7 195.4L1621.9 195.4L1623.1 195.4L1624.3 195.4L1625.5 195.4L1626.7 195.4L1627.9 195.4L1629.1 195.4L1630.3 195.4L1631.5 195.4L1632.7 195.4L1633.9 195.4L1635.1 195.4L1636.3 195.4L1637.5 195.4L1638.7 195.4L1639.9 195.4L1641.1 195.4L1642.3 195.4L1643.5 195.5L1644.7 195.5L1645.9 195.5L1647.1 195.5L1648.3 195.5L1649.5 195.5L1650.7 195.5L1651.9 195.5L1653.1 195.5L1654.3 195.5L1655.5 195.5L1656.7 195.5L1657.9 195.5L1659.1 195.5L1660.3 195.5L1661.5 195.5L1662.7 195.5L1663.9 195.5L1665.1 195.5L1666.3 195.5L1667.5 195.5L1668.7 195.5L1669.9 195.5L1671.1 195.5L1672.3 195.5L1673.5 195.5L1674.7 195.5L1675.9 195.5L1677.1 195.5L1678.3 195.5L1679.5 195.5L1680.7 195.5L1681.9 195.5L1683.1 195.5L1684.3 195.5L1685.5 195.5L1686.7 195.5L1687.9 195.5L1689.1 195.5L1690.4 195.5L1691.6 195.5L1692.8 195.5L1694.0 195.5L1695.2 195.5L1696.4 195.5L1697.6 195.5L1698.8 195.5L1700.0 195.5L1701.2 195.5L1702.4 195.5L1703.6 195.5L1704.8 195.5L1706.0 195.5L1707.2 195.5L1708.4 195.5L1709.6 195.5L1710.8 195.5L1712.0 195.5L1713.2 195.5L1714.4 195.5L1715.6 195.5L1716.8 195.5L1718.0 195.5L1719.2 195.5L1720.4 195.5L1721.6 195.5L1722.8 195.5L1724.0 195.5L1725.2 195.5L1726.4 195.5L1727.6 195.5L1728.8 195.5L1730.0 195.5L1731.2 195.6L1732.4 195.6L1733.6 195.6L1734.8 195.6L1736.0 195.6L1737.2 195.6L1738.4 195.6L1739.6 195.6L1740.8 195.6L1742.0 195.6L1743.2 195.6L1744.4 195.6L1745.6 195.6L1746.8 195.6L1748.0 195.6L1749.2 195.6L1750.4 195.6L1751.6 195.6L1752.8 195.6L1754.0 195.6L1755.0 195.6L1755.2 195.6L1756.4 195.6L1757.6 195.7L1758.9 195.7L1760.1 195.8L1761.2 195.9L1762.0 196.0L1762.4 196.1L1763.5 196.4L1764.7 197.0L1765.7 197.7L1766.0 198.0L1766.5 198.5L1767.2 199.4L1767.9 200.5L1768.4 201.7L1768.5 202.0L1768.7 202.8L1769.0 203.9L1769.2 205.1L1769.3 206.4L1769.4 207.0L1769.4 207.5L1769.5 208.7L1769.6 209.9L1769.7 211.1L1769.7 212.3L1769.8 213.5L1769.8 214.7L1769.8 215.9L1769.9 217.2L1769.9 218.4L1770.0 219.6L1770.0 220.0L1770.0 220.8L1770.1 222.0L1770.1 223.2L1770.2 224.4L1770.3 225.6L1770.3 226.8L1770.4 228.0L1770.4 229.2L1770.5 230.4L1770.6 231.6L1770.6 232.8L1770.7 234.0L1770.7 235.2L1770.8 236.4L1770.8 237.6L1770.9 238.8L1771.0 240.0L1771.0 241.2L1771.1 242.4L1771.1 243.6L1771.2 244.8L1771.3 246.0L1771.3 247.2L1771.4 248.4L1771.4 249.6L1771.5 250.8L1771.5 252.0L1771.6 253.2L1771.7 254.4L1771.7 255.6L1771.8 256.8L1771.8 258.0L1771.9 259.2L1772.0 260.4L1772.0 261.6L1772.1 262.8L1772.1 264.0L1772.2 265.2L1772.2 266.4L1772.3 267.6L1772.4 268.8L1772.4 270.0L1772.5 271.2L1772.5 272.0L1772.5 272.4L1772.6 273.6L1772.6 274.8L1772.7 276.0L1772.7 277.2L1772.8 278.4L1772.8 279.6L1772.9 280.8L1772.9 282.0L1773.0 283.2L1773.0 284.4L1773.1 285.6L1773.1 285.6" stroke="#000000" stroke-dasharray="26.3 8.05 7.5 8.42" stroke-dashoffset="32.98"/>
<path d="M1773.1 285.6L1773.2 286.8L1773.2 288.0L1773.3 289.2L1773.3 290.4L1773.4 291.6L1773.4 292.8L1773.5 294.0L1773.5 295.2L1773.6 296.4L1773.6 297.6L1773.7 298.8L1773.7 300.0L1773.8 301.2L1773.8 302.4L1773.9 303.6L1773.9 304.8L1774.0 306.0L1774.0 307.2L1774.1 308.4L1774.1 309.6L1774.2 310.8L1774.2 312.0L1774.3 313.2L1774.4 314.4L1774.4 315.6L1774.5 316.8L1774.5 318.0L1774.6 319.2L1774.6 320.4L1774.7 321.6L1774.7 322.8L1774.8 324.0L1774.8 325.2L1774.9 326.4L1774.9 327.6L1775.0 328.8L1775.0 330.0L1775.0 331.2L1775.1 332.4L1775.1 333.6L1775.2 334.8L1775.2 336.0L1775.3 337.2L1775.3 338.4L1775.4 339.6L1775.4 340.3L1775.4 340.8L1775.5 342.0L1775.5 343.2L1775.5 344.4L1775.6 345.6L1775.6 346.8L1775.7 348.0L1775.7 349.2L1775.8 350.4L1775.8 351.6L1775.8 352.8L1775.9 354.0L1775.9 355.2L1775.9 356.4L1776.0 357.6L1776.0 358.8L1776.1 360.0L1776.1 361.2L1776.1 362.4L1776.2 363.6L1776.2 364.8L1776.2 366.0L1776.3 367.2L1776.3 368.4L1776.4 369.6L1776.4 370.9L1776.4 372.1L1776.5 373.3L1776.5 374.5L1776.6 375.7L1776.6 376.9L1776.6 378.1L1776.7 379.3L1776.7 380.5L1776.8 381.7L1776.8 382.9L1776.9 384.1L1776.9 385.3L1777.0 386.5L1777.0 387.1L1777.0 387.7L1777.1 388.9L1777.1 390.1L1777.2 391.3L1777.3 392.5L1777.3 393.7L1777.4 394.9L1777.5 396.1L1777.5 397.3L1777.6 398.5L1777.6 399.7L1777.7 400.9L1777.8 402.1L1777.8 402.7L1777.8 403.3L1777.9 404.5L1777.9 405.7L1778.0 406.9L1778.0 408.1L1778.1 409.3L1778.1 410.5L1778.2 411.7L1778.2 412.9L1778.3 414.1L1778.3 415.3L1778.4 416.5L1778.5 417.7L1778.5 418.3L1778.5 418.9L1778.6 420.1L1778.8 421.3L1778.9 422.5L1779.0 423.6L1779.2 424.8L1779.4 426.0L1779.6 427.2L1779.8 428.4L1780.0 429.6L1780.2 430.8L1780.4 432.0L1780.6 433.1L1780.9 434.3L1781.1 435.5L1781.3 436.7L1781.6 437.9L1781.7 438.6L1781.8 439.0L1782.0 440.2L1782.3 441.4L1782.5 442.6L1782.8 443.7L1783.1 444.9L1783.4 446.1L1783.7 447.2L1784.0 448.4L1784.3 449.6L1784.6 450.7L1784.9 451.9L1785.3 453.0L1785.6 454.2L1786.5 453.3L1787.4 452.4L1788.2 451.6L1789.1 450.7L1790.0 449.8L1790.3 449.5L1790.9 448.9L1791.8 448.1L1792.7 447.2L1793.6 446.4L1794.4 445.5L1795.3 444.6L1796.1 443.7L1796.5 443.3L1796.9 442.8L1797.7 441.8L1798.4 440.8L1799.1 439.8L1799.8 438.7L1800.5 437.7L1801.2 436.7L1801.9 435.6L1802.6 434.6L1803.3 433.6L1804.1 432.6L1804.3 432.4L1804.9 431.7L1805.7 430.8L1806.6 429.9L1807.4 429.0L1808.3 428.1L1809.2 427.2L1810.1 426.3L1811.0 425.5L1811.9 424.7L1812.0 424.6L1812.8 423.9L1813.8 423.0L1814.7 422.2L1815.7 421.4L1816.7 420.6L1817.7 419.9L1818.7 419.1L1819.7 418.5L1820.8 417.9L1821.5 417.5L1821.9 417.3L1823.0 416.8L1824.1 416.4L1825.2 415.9L1826.4 415.5L1827.6 415.1L1828.8 414.7L1830.0 414.3L1831.2 414.0L1832.4 413.7L1833.6 413.4L1834.0 413.3L1834.8 413.1L1836.0 412.9L1837.3 412.7L1838.5 412.5" stroke="#000000" stroke-dasharray="26.3 8.05 7.5 8.42" stroke-dashoffset="4.79"/>
<path d="M150.3 1047.4L151.5 1047.4L152.8 1047.5L154.0 1047.6L155.2 1047.7L156.4 1047.8L157.7 1047.9L158.9 1048.0L160.1 1048.1L161.3 1048.3L161.7 1048.3L162.5 1048.4L163.8 1048.7L165.0 1048.9L166.2 1049.2L167.4 1049.4L168.3 1049.4L168.6 1049.4L169.8 1049.3L171.0 1049.2L172.3 1049.1L173.5 1048.9L174.7 1048.7L175.9 1048.5L177.1 1048.3L178.4 1048.1L179.6 1048.0L180.8 1047.9L181.6 1047.9L182.0 1047.9L183.3 1047.9L184.5 1047.9L185.7 1048.0L186.9 1048.0L188.2 1048.1L189.4 1048.1L190.6 1048.2L191.9 1048.2L193.1 1048.3L193.3 1048.3L194.3 1048.3L195.5 1048.4L196.8 1048.5L198.0 1048.6L199.2 1048.7L200.5 1048.7L201.7 1048.8L202.9 1048.9L204.1 1049.0L205.4 1049.0L206.6 1049.1L206.6 1049.1L207.8 1049.1L209.1 1049.2L210.4 1049.2L211.6 1049.2L212.9 1049.2L214.1 1049.2L215.4 1049.3L216.6 1049.3L217.7 1049.4L218.3 1049.4L218.8 1049.5L219.9 1050.0L220.9 1050.8L221.8 1051.8L222.5 1052.4L222.7 1052.6L223.6 1053.5L224.4 1054.4L225.2 1055.3L225.9 1056.3L226.6 1057.4L227.6 1056.7L228.6 1055.9L229.5 1055.0L230.3 1054.1L230.8 1053.3L230.9 1053.1L231.4 1052.1L231.9 1051.0L232.3 1049.8L232.7 1048.6L233.1 1047.5L233.3 1046.6L233.4 1046.3L233.7 1045.1L233.9 1043.9L234.2 1042.7L234.4 1041.6L234.6 1040.4L234.8 1039.2L235.0 1038.0L235.2 1036.8L235.4 1035.5L235.6 1034.3L235.8 1033.3L235.8 1033.1L236.0 1032.0L236.2 1030.8L236.4 1029.6L236.6 1028.4L236.8 1027.2L237.0 1026.0L237.2 1024.8L237.4 1023.6L237.5 1022.4L237.7 1021.2L237.9 1020.0L238.0 1018.7L238.2 1017.5L238.3 1016.6L238.3 1016.3L238.5 1015.1L238.6 1013.9L238.8 1012.7L238.9 1011.5L239.0 1010.3L239.2 1009.1L239.3 1007.9L239.4 1006.7L239.5 1005.5L239.6 1004.3L239.7 1003.1L239.8 1001.9L239.9 1000.6L240.0 1000.0L240.0 999.4L240.1 998.2L240.2 997.0L240.3 995.8L240.4 994.6L240.5 993.4L240.6 992.2L240.6 991.0L240.7 989.7L240.8 988.5L240.9 987.3L240.9 986.1L241.0 984.9L241.1 983.7L241.1 982.5L241.2 981.3L241.3 980.1L241.4 978.8L241.4 977.6L241.5 976.4L241.6 975.2L241.6 975.0L241.7 974.0L241.7 972.8L241.8 971.6L241.9 970.4L242.0 969.1L242.0 967.9L242.1 966.7L242.2 965.5L242.3 964.3L242.3 963.1L242.4 961.9L242.5 960.7L242.6 959.5L242.6 958.2L242.7 957.0L242.8 955.8L242.9 954.6L243.0 953.4L243.0 952.2L243.1 951.0L243.2 950.0L243.2 949.8L243.3 948.6L243.4 947.3L243.5 946.1L243.6 944.9L243.7 943.7L243.8 942.5L243.9 941.3L244.0 940.1L244.1 938.9L244.2 937.7L244.3 936.5L244.4 935.2L244.5 934.0L244.6 932.8L244.7 931.6L244.8 930.4L244.9 929.2L245.1 928.0L245.2 926.8L245.3 925.6L245.3 925.0L245.4 924.4L245.5 923.2L245.5 921.9L245.6 920.7L245.7 919.5L245.8 918.3L245.9 917.1L246.0 915.9L246.1 914.7L246.2 913.5L246.3 912.3L246.4 911.1L246.5 909.8L246.6 908.6L246.7 907.4L246.8 906.2L246.9 905.0L257.6 760.8L262.9 755.4L277.0 910.0L277.2 911.2L277.5 912.4L277.7 913.6L278.0 914.7L278.2 915.9L278.3 916.7L278.4 917.1L278.5 918.3L278.7 919.5L278.9 920.7L279.0 921.9L279.2 923.1L279.4 924.3L279.5 925.5L279.6 926.7L279.8 927.9L279.9 929.1L280.1 930.3L280.2 931.5L280.3 932.7L280.5 933.9L280.6 935.1L280.8 936.3L280.8 936.6L280.9 937.5L281.0 938.7L281.1 939.9L281.3 941.2L281.4 942.4L281.5 943.6L281.6 944.8L281.7 946.0L281.9 947.2L282.1 948.4L282.3 949.5L282.4 950.0L282.6 950.7L283.0 951.9L283.5 953.1L284.2 954.1L284.9 955.0L284.9 955.0L285.8 955.7L287.0 956.3L288.1 956.6L288.3 956.6L289.1 956.3L289.9 955.4L290.7 954.3L291.6 953.3L291.6 953.3L292.5 952.5L293.6 951.6L294.6 951.1L294.9 951.1L295.6 951.2L296.7 951.7L297.8 952.4L298.9 953.2L299.1 953.3L299.9 953.8L300.8 954.5L301.8 955.3L302.7 956.0L303.7 956.8L304.6 957.6L305.6 958.3L306.5 959.1L306.6 959.1L307.5 959.7L308.6 960.3L309.6 961.0L310.6 961.6L311.7 962.2L312.7 962.8L313.8 963.4L314.8 964.0L314.9 964.1L315.8 964.7L316.8 965.4L317.8 966.2L318.7 967.0L319.7 967.7L320.7 968.4L321.6 969.1L322.7 969.7L323.2 970.0L323.7 970.2L324.8 970.7L325.9 971.2L327.0 971.7L328.1 972.1L329.2 972.5L330.4 972.9L331.5 973.3L332.7 973.7L333.9 974.0L335.1 974.4L336.2 974.7L337.4 975.1L338.6 975.4L339.7 975.7L339.9 975.8L340.9 976.1L342.0 976.4L343.2 976.7L344.4 977.0L345.5 977.3L346.7 977.6L347.9 977.9L349.1 978.2L350.2 978.5L351.4 978.7L352.6 979.0L353.8 979.3L355.0 979.6L356.1 979.9L356.6 980.0L357.3 980.2L358.5 980.5L359.6 980.7L360.8 981.0L362.0 981.3L363.2 981.6L364.3 981.9L365.5 982.2L366.7 982.4L367.9 982.7L369.0 983.0L370.2 983.3L371.4 983.6L372.6 983.9L373.2 984.1L373.7 984.2L374.9 984.6L376.0 984.9L377.2 985.3L378.3 985.7L379.5 986.0L380.6 986.4L381.8 986.8L383.0 987.1L384.1 987.5L385.3 987.9L386.4 988.2L387.6 988.5L388.7 988.8L389.9 989.1L389.9 989.1L391.1 989.4L392.3 989.6L393.5 989.9L394.6 990.1L395.8 990.3L397.0 990.5L398.2 990.7L399.4 991.0L400.6 991.2L401.8 991.3L403.0 991.5L404.2 991.7L405.4 991.9L406.5 992.1L406.6 992.1L407.8 992.3L409.0 992.5L410.1 992.6L411.3 992.8L412.5 993.0L413.7 993.1L414.9 993.3L416.1 993.4L417.3 993.6L418.5 993.7L419.7 993.9L420.9 994.1L422.1 994.2L423.2 994.4L423.3 994.4L424.5 994.6L425.7 994.8L426.9 995.1L428.1 995.3L429.3 995.5L430.4 995.8L431.6 996.0L432.8 996.3L434.0 996.5L435.2 996.7L436.4 996.9L437.6 997.1L438.8 997.3L439.8 997.4L440.0 997.4L441.2 997.5L442.4 997.6L443.6 997.7L444.8 997.8L446.0 997.9L447.3 998.0L448.4 998.1L449.6 998.2L450.0 998.3L450.8 998.5L451.9 998.9L452.9 999.5L454.0 1000.2L455.1 1000.8L456.2 1001.2L456.6 1001.3L457.4 1001.5L458.5 1001.6L459.7 1001.8L460.9 1001.9L462.2 1002.1L463.4 1002.2L464.6 1002.3L465.0 1002.4L465.8 1002.5L467.0 1002.6L468.3 1002.8L469.5 1002.9L470.7 1003.1L471.9 1003.3L473.0 1003.5L473.3 1003.6L474.0 1003.9L475.1 1004.4L476.1 1005.2L477.0 1006.0L477.9 1007.0L478.7 1007.9L479.1 1008.3L479.5 1008.8L480.3 1009.7L481.0 1010.7L481.6 1011.7L482.3 1012.8L482.8 1013.9L483.3 1014.9L483.3 1015.0L483.7 1016.1L484.1 1017.2L484.4 1018.4L484.7 1019.7L485.0 1020.9L485.3 1022.1L485.6 1023.2L486.0 1024.3L486.3 1024.9L486.5 1025.3L487.2 1026.3L488.1 1027.2L489.0 1028.1L489.1 1028.2L489.9 1028.8L490.8 1029.5L491.9 1030.1L493.0 1030.7L493.2 1029.5L493.4 1028.3L493.6 1027.1L493.7 1025.9L493.9 1024.7L494.1 1023.5L494.3 1022.3L494.4 1021.2L494.6 1020.0L494.8 1018.8L494.9 1017.6L495.1 1016.4L495.2 1015.2L495.4 1014.0L495.5 1012.8L495.6 1011.6L495.8 1010.4L495.8 1009.9L495.9 1009.2L496.0 1008.0L496.1 1006.8L496.2 1005.6L496.3 1004.4L496.4 1003.2L496.5 1002.0L496.6 1000.8L496.7 999.6L496.8 998.4L496.9 997.2L497.0 996.0L497.1 994.8L497.2 993.6L497.2 992.4L497.3 991.2L497.4 990.0L497.5 988.8L497.6 987.6L497.7 986.4L497.7 985.1L497.8 983.9L497.9 982.7L498.0 981.5L498.1 980.3L498.1 979.1L498.2 977.9L498.3 976.7L498.3 976.6L498.4 975.5L498.4 974.3L498.5 973.1L498.6 971.9L498.7 970.7L498.8 969.5L498.8 968.3L498.9 967.1L499.0 965.9L499.0 964.7L499.1 963.5L499.2 962.3L499.3 961.1L499.3 959.9L499.4 958.7L499.5 957.5L499.5 956.3L499.6 955.1L499.7 953.9L499.7 952.7L499.8 951.4L499.9 950.2L499.9 949.0L500.0 947.8L500.1 946.6L500.2 945.4L500.2 944.2L500.3 943.3L500.3 943.0L500.4 941.8L500.5 940.6L500.5 939.4L500.6 938.2L500.7 937.0L500.8 935.8L500.9 934.6L500.9 933.4L501.0 932.2L501.1 931.0L501.2 929.8L501.3 928.6L501.3 927.4L501.4 926.2L501.5 925.0L501.6 923.8L501.7 922.6L501.7 921.4L501.8 920.2L501.9 919.0L502.0 917.8L502.1 916.6L502.1 915.4L502.2 914.1L502.3 912.9L502.4 911.7L502.5 910.5L502.5 910.0L502.5 909.3L502.6 908.1L502.7 906.9L502.8 905.7L502.9 904.5L502.9 903.3L503.0 902.1L503.1 900.9L503.2 899.7L503.3 898.5L503.3 897.3L503.4 896.1L503.5 894.9L503.6 893.7L503.7 892.5L503.7 891.3L503.8 890.1L503.9 888.9L503.9 887.7L504.0 886.5L504.1 885.3L504.1 885.0L504.2 884.1L504.2 882.9L504.3 881.7L504.3 880.5L504.4 879.3L504.5 878.0L504.5 876.8L504.6 875.6L504.6 874.4L504.7 873.2L504.7 872.0L504.8 870.8L504.9 869.6L504.9 868.4L505.0 867.2L505.0 866.0L505.1 864.8L505.1 863.6L505.2 862.4L505.2 861.2L505.3 860.0L505.3 860.0L505.4 858.8L505.4 857.6L505.5 856.4L505.5 855.2L505.6 854.0L505.6 852.8L505.7 851.5L505.7 850.3L505.8 849.1L505.8 847.9L505.9 846.7L505.9 846.6L505.9 845.5L506.0 844.3L506.1 843.1L506.1 841.9L506.2 840.7L506.2 839.5L506.3 838.3L506.4 837.1L506.4 835.9L506.5 834.7L506.5 833.5L506.6 832.3L506.7 831.1L506.7 829.9L506.8 828.7L506.8 827.5L506.9 826.3L507.0 825.1L507.0 823.8L507.1 822.6L507.1 821.4L507.2 820.2L507.3 819.0L507.3 817.8L507.4 816.6L507.4 815.4L507.5 814.2L507.6 813.0L507.6 811.8L507.7 810.6L507.7 809.4L507.8 808.2L507.9 807.0L507.9 805.8L508.0 804.6L508.0 803.4L508.1 802.2L508.1 801.0L508.2 799.8L508.2 798.6L508.3 797.4L508.3 796.6L508.3 796.1L508.4 794.9L508.4 793.7L508.5 792.5L508.5 791.3L508.5 790.1L508.6 788.9L508.6 787.7L508.7 786.5L508.7 785.3L508.8 784.1L508.8 782.9L508.8 781.7L508.9 780.5L508.9 779.3L509.0 778.1L509.0 776.9L509.0 775.7L509.1 774.5L509.1 773.3L509.2 772.0L509.2 770.8L509.2 769.6L509.3 768.4L509.3 767.2L509.4 766.0L509.4 764.8L509.4 763.6L509.5 762.4L509.5 761.2L509.5 760.0L509.6 758.8L509.6 757.6L509.7 756.4L509.7 755.2L509.7 754.0L509.8 752.8L509.8 751.6L509.9 750.4L509.9 749.1L510.0 747.9L510.0 746.7L510.0 746.6L510.0 745.5L510.1 744.3L510.1 743.1L510.2 741.9L510.2 740.7L510.3 739.5L510.3 738.3L510.3 737.1L510.4 735.9L510.4 734.7L510.5 733.5L510.5 732.3L510.6 731.1L510.6 729.9L510.7 728.7L510.7 727.5L510.8 726.3L510.8 725.1L510.8 723.8L510.9 722.6L510.9 721.4L511.0 720.2L511.0 719.0L511.1 717.8L511.1 716.6L511.2 715.4L511.2 714.2L511.3 713.0L511.3 711.8L511.4 710.6L511.4 709.4L511.5 708.2L511.5 707.0L511.6 705.8L511.6 705.0L511.6 704.6L511.7 703.4L511.7 702.2L511.8 701.0L511.8 699.8L511.9 698.5L511.9 697.3L512.0 696.1L512.0 694.9L512.1 693.7L512.1 692.5L512.2 691.3L512.3 690.1L512.3 688.9L512.4 687.7L512.4 686.5L512.5 685.3L512.5 684.1L512.6 682.9L512.6 681.7L512.7 680.5L512.7 680.0L512.7 679.3L512.8 678.1L512.8 676.9L512.9 675.7L512.9 674.5L513.0 673.2L513.0 672.0L513.1 670.8L513.1 669.6L513.1 668.4L513.2 667.2L513.2 666.0L513.3 664.8L513.3 663.6L513.4 662.4L513.4 661.2L513.5 660.0L513.5 658.8L513.5 657.6L513.6 656.4L513.6 655.2L513.7 654.0L513.7 652.8L513.8 651.6L513.8 650.4L513.9 649.2L513.9 647.9L514.0 646.7L514.0 645.5L514.1 644.3L514.1 643.2L514.1 643.1L514.2 641.9L514.2 640.7L514.3 639.5L514.3 638.3L514.3 637.1L514.4 635.9L514.4 634.7L514.5 633.5L514.5 632.3L514.6 631.1L514.6 629.9L514.7 628.7L514.7 627.5L514.8 626.3L514.8 625.1L514.9 623.9L514.9 622.6L515.0 621.4L515.1 620.2L515.1 619.0L515.2 617.8L515.2 616.6L515.3 615.4L515.3 614.2L515.4 613.0L515.4 611.8L515.5 610.6L515.6 609.4L515.6 608.2L515.7 607.0L515.8 605.8L515.8 604.9L515.8 604.6L515.9 603.4L515.9 602.2L516.0 601.0L516.1 599.8L516.2 598.6L516.2 597.4L516.3 596.2L516.4 595.0L516.4 593.7L516.5 592.5L516.6 591.3L516.7 590.1L516.7 588.9L516.8 587.7L516.9 586.5L517.0 585.3L517.1 584.1L517.1 582.9L517.2 581.7L517.3 580.5L517.4 579.3L517.5 578.1L517.6 576.9L517.7 575.7L517.8 574.5L517.9 573.3L518.0 572.1L518.1 570.9L518.2 569.7L518.3 568.5L518.3 568.3L518.4 567.3L518.5 566.1L518.6 564.9L518.7 563.7L518.8 562.5L518.9 561.3L519.1 560.1L519.2 558.9L519.3 557.7L519.4 556.5L519.6 555.3L519.7 554.1L519.9 552.9L520.0 551.7L520.2 550.5L520.4 549.3L520.6 548.1L520.7 546.9L520.8 546.6L520.9 545.7L521.2 544.6L521.4 543.4L521.7 542.2L522.0 541.1L522.3 539.9L522.7 538.7L523.0 537.6L523.4 536.4L523.7 535.3L524.1 534.1L534.1 565.8L534.9 564.1L535.7 562.5L536.5 561.1L537.3 559.8L538.1 558.6L538.9 557.6L539.7 556.7L540.5 555.9L541.3 555.2L542.1 554.7L543.0 554.4L543.8 554.2L544.6 554.1L544.6 554.1L545.5 554.3L546.3 554.8L547.1 555.6L547.9 556.5L548.8 557.7L549.6 558.9L550.4 560.1L551.3 561.4L552.1 562.6L553.0 563.7L553.9 564.6L554.9 565.3L555.8 565.7L556.6 565.8L556.8 565.8L557.9 565.8L559.0 565.7L560.1 565.6L561.3 565.5L562.5 565.4L563.8 565.2L565.0 565.1L566.3 564.9L567.6 564.7L568.8 564.6L570.1 564.4L571.4 564.3L572.6 564.2L573.3 564.1L573.8 564.1L575.0 564.0L576.2 563.9L577.4 563.8L578.7 563.8L579.9 563.7L581.1 563.6L582.3 563.5L583.5 563.4L584.7 563.3L584.9 563.3L585.9 563.2L587.1 563.0L588.3 562.7L589.5 562.4L590.7 562.1L591.9 561.8L593.1 561.5L594.3 561.3L595.5 561.0L596.7 560.9L597.8 560.8L598.3 560.8L599.0 560.9L600.2 561.1L601.3 561.6L602.5 562.1L603.6 562.6L604.8 563.0L606.0 563.3L606.6 563.3L607.2 563.3L608.3 563.2L609.5 563.2L610.7 563.0L612.0 562.9L613.2 562.7L614.4 562.5L615.6 562.3L616.8 562.2L618.0 562.0L619.3 561.8L620.5 561.7L621.7 561.6L622.9 561.6L623.2 561.6L624.1 561.7L625.2 561.9L626.4 562.3L627.6 562.7L628.8 563.1L629.9 563.4L631.1 563.6L631.6 563.6L632.3 563.6L633.6 563.6L634.8 563.6L636.1 563.5L637.4 563.5L638.6 563.4L639.9 563.4L641.1 563.4L642.3 563.3L643.4 563.3L644.5 563.3L644.9 563.3L645.6 563.4L646.6 563.9L647.5 564.6L648.4 565.6L649.3 566.7L650.2 567.7L650.7 568.3L651.0 568.6L651.8 569.5L652.5 570.4L653.2 571.4L654.0 572.4L654.6 573.4L655.3 574.4L655.9 575.5L656.5 576.6L662.4 575.3L663.0 576.3L663.7 577.4L664.3 578.5L664.8 579.5L665.4 580.6L665.9 581.7L666.3 582.8L666.5 583.3L666.7 583.9L667.1 585.1L667.4 586.2L667.7 587.4L668.0 588.6L668.3 589.7L668.6 590.9L668.9 592.1L669.1 593.3L669.4 594.5L669.7 595.7L669.9 596.6L670.0 596.8L670.3 598.0L670.6 599.2L670.9 600.4L671.2 601.5L671.5 602.7L671.8 603.9L672.1 605.0L672.3 606.2L672.6 607.4L672.9 608.6L673.2 609.8L673.2 609.9L673.4 610.9L673.7 612.1L673.9 613.3L674.2 614.5L674.4 615.7L674.7 616.8L674.9 618.0L675.2 619.2L675.4 620.4L675.6 621.6L675.8 622.8L676.1 624.0L676.3 625.2L676.5 626.4L676.5 626.6L676.7 627.5L676.8 628.7L677.0 629.9L677.2 631.1L677.4 632.3L677.6 633.5L677.7 634.7L677.9 635.9L678.1 637.1L678.2 638.3L678.4 639.5L678.5 640.7L678.7 641.9L678.9 643.1L679.0 644.3L679.2 645.5L679.3 646.7L679.5 647.9L679.6 649.1L679.7 650.3L679.9 651.5L679.9 651.6L680.0 652.7L680.2 653.9L680.3 655.1L680.5 656.3L680.6 657.5L680.7 658.7L680.9 659.9L681.0 661.1L681.1 662.3L681.3 663.5L681.4 664.7L681.5 665.9L681.6 667.1L681.8 668.3L681.9 669.5L682.0 670.7L682.1 671.9L682.3 673.1L682.4 674.3L682.5 675.5L682.6 676.8L682.8 678.0L682.9 679.2L683.0 680.4L683.2 681.6L683.2 682.0L683.3 682.8L683.4 684.0L683.5 685.2L683.7 686.4L683.8 687.6L683.9 688.8L684.1 690.0L684.2 691.2L684.3 692.4L684.5 693.6L684.6 694.8L684.7 696.0L684.9 697.2L685.0 698.4L685.1 699.6L685.2 700.8L685.4 702.0L685.5 703.2L685.6 704.4L685.7 705.6L685.9 706.8L686.0 708.0L686.1 709.2L686.2 710.4L686.3 711.6L686.5 712.8L686.5 713.3L686.6 714.0L686.7 715.2L686.8 716.4L686.9 717.6L687.0 718.8L687.1 720.0L687.2 721.3L687.3 722.5L687.4 723.7L687.5 724.9L687.6 726.1L687.7 727.3L687.8 728.5L687.9 729.7L688.0 730.9L688.1 732.1L688.1 733.3L688.2 734.5L688.3 735.7L688.4 736.9L688.5 738.1L688.6 739.3L688.7 740.5L688.8 741.7L688.9 742.9L689.0 744.2L689.1 745.4L689.2 746.6L689.3 747.8L689.4 749.0L689.5 750.2L689.6 751.4L689.7 752.6L689.8 753.8L689.9 755.0L689.9 755.0L690.0 756.2L690.1 757.4L690.2 758.6L690.3 759.8L690.5 761.0L690.6 762.2L690.7 763.4L690.8 764.6L690.9 765.8L691.0 767.0L691.2 768.2L691.3 769.4L691.4 770.6L691.5 771.8L691.7 773.0L691.8 774.3L691.9 775.5L692.0 776.7L692.1 777.9L692.3 779.1L692.4 780.3L692.5 781.5L692.6 782.7L692.8 783.9L692.9 785.1L693.0 786.3L693.1 787.5L693.2 788.3L693.2 788.7L693.4 789.9L693.5 791.1L693.6 792.3L693.7 793.5L693.8 794.7L693.9 795.9L694.0 797.1L694.2 798.3L694.3 799.5L694.4 800.7L694.5 801.9L694.6 803.1L694.7 804.3L694.8 805.5L695.0 806.7L695.1 807.9L695.2 809.1L695.4 810.3L695.5 811.5L695.6 812.7L695.7 813.3L695.8 813.9L695.9 815.1L696.1 816.3L696.3 817.5L696.4 818.7L696.6 819.9L696.8 821.1L696.9 822.3L697.1 823.5L697.3 824.7L697.5 825.9L697.7 827.1L697.9 828.3L698.2 827.1L698.5 825.8L698.9 824.6L699.2 823.4L699.5 822.1L699.8 820.9L700.1 819.7L700.4 818.4L700.7 817.2L701.0 816.0L701.3 814.7L701.6 813.5L701.9 812.3L702.1 811.0L702.4 809.9L702.4 809.8L702.7 808.5L702.9 807.2L703.1 805.9L703.3 804.6L703.5 803.2L703.7 801.9L703.9 800.5L704.1 799.2L704.3 797.9L704.5 796.6L704.7 795.3L705.0 794.1L705.3 793.0L705.7 791.9L706.1 790.8L706.5 789.9L706.5 789.9L707.4 789.1L708.5 788.3L709.5 789.1L710.6 789.9L711.6 790.8L712.4 791.7L713.0 792.6L713.2 793.3L713.3 793.6L713.5 794.7L713.6 795.7L713.8 796.9L713.9 798.0L714.0 799.2L714.1 800.4L714.2 801.6L714.2 802.9L714.3 804.2L714.4 805.4L714.4 806.7L714.5 808.0L714.6 809.2L714.7 810.5L714.8 811.7L714.9 813.0L714.9 813.3L715.0 814.2L715.1 815.4L715.3 816.6L715.4 817.8L715.5 819.0L715.7 820.2L715.9 821.4L716.0 822.6L716.2 823.8L716.3 825.0L716.5 826.2L716.7 827.4L716.8 828.6L717.0 829.8L717.2 830.9L717.4 832.1L717.5 833.3L717.7 834.5L717.9 835.7L718.0 836.9L718.2 838.1L718.2 838.3L718.3 839.3L718.5 840.5L718.6 841.7L718.8 842.9L718.9 844.1L719.1 845.4L719.2 846.6L719.3 847.8L719.5 849.0L719.6 850.2L719.8 851.4L719.9 852.6L720.0 853.8L720.2 855.0L720.4 856.2L720.5 857.4L720.7 858.6L720.9 859.8L721.1 860.9L721.3 862.1L721.5 863.2L721.5 863.3L721.8 864.5L722.0 865.6L722.3 866.8L722.7 868.0L723.0 869.1L723.4 870.3L723.7 871.4L724.1 872.6L724.5 873.7L724.9 874.9L725.3 876.1L725.7 877.2L726.0 878.4L726.4 879.5L726.5 879.9L726.7 880.7L727.1 881.8L727.4 883.0L727.8 884.2L728.1 885.3L728.4 886.5L728.8 887.6L729.1 888.8L729.5 890.0L729.8 891.1L730.2 892.3L730.5 893.4L730.9 894.6L731.2 895.7L731.5 896.6L731.6 896.9L732.0 898.0L732.4 899.2L732.8 900.3L733.2 901.5L733.6 902.6L733.9 903.8L734.0 904.0L734.2 904.9L734.5 906.1L734.8 907.3L735.0 908.4L735.3 909.6L735.5 910.8L735.7 912.0L735.9 913.2L736.2 914.4L736.4 915.6L736.6 916.8L736.8 918.0L737.0 919.2L737.2 920.4L737.4 921.6L737.6 922.8L737.7 923.9L737.9 925.1L738.2 926.3L738.2 926.6L738.4 927.5L738.6 928.7L738.8 929.9L739.0 931.1L739.2 932.3L739.3 933.5L739.5 934.7L739.7 935.9L739.9 937.1L740.1 938.3L740.3 939.5L740.5 940.7L740.7 941.8L740.9 943.0L741.1 944.2L741.3 945.4L741.4 946.6L741.6 947.8L741.8 949.0L742.1 950.2L742.3 951.4L742.3 951.6L742.5 952.6L742.7 953.8L742.9 955.0L743.1 956.2L743.3 957.4L743.5 958.5L743.7 959.7L743.9 960.9L744.1 962.1L744.3 963.3L744.6 964.5L744.8 965.7L745.0 966.9L745.3 968.1L745.5 969.2L745.8 970.4L746.1 971.6L746.4 972.8L746.5 973.3L746.7 973.9L747.0 975.1L747.4 976.2L747.8 977.4L748.2 978.5L748.6 979.7L749.0 980.8L750.0 979.9L751.0 979.1L751.9 978.2L752.8 977.3L753.5 976.3L753.9 975.4L754.0 975.0L754.1 974.3L754.2 973.3L754.4 972.2L754.5 971.1L754.6 970.0L754.7 968.9L754.8 967.7L754.9 966.6L755.0 965.4L755.1 964.2L755.1 962.9L755.2 961.7L755.2 960.5L755.3 959.2L755.3 958.0L755.4 956.7L755.4 955.4L755.5 954.2L755.5 952.9L755.6 951.6L755.6 950.4L755.6 949.1L755.7 947.9L755.7 946.6L755.8 945.4L755.9 944.2L755.9 943.3L755.9 943.0L756.0 941.8L756.0 940.6L756.1 939.4L756.2 938.2L756.2 937.0L756.3 935.8L756.3 934.6L756.4 933.4L756.5 932.1L756.5 930.9L756.6 929.7L756.6 928.5L756.7 927.3L756.7 926.1L756.8 924.9L756.8 923.7L756.9 922.5L757.0 921.3L757.0 920.1L757.1 918.9L757.1 917.7L757.2 916.5L757.2 915.3L757.3 914.1L757.3 912.9L757.4 911.7L757.4 910.5L757.5 909.3L757.6 908.1L757.6 906.9L757.7 905.7L757.7 904.5L757.8 903.3L757.8 903.0L757.8 902.1L757.9 900.9L758.0 899.7L758.0 898.5L758.1 897.3L758.1 896.1L758.2 894.9L758.3 893.7L758.3 892.5L758.4 891.3L758.4 890.0L758.5 888.8L758.6 887.6L758.6 886.4L758.7 885.2L758.8 884.0L758.8 882.8L758.9 881.6L758.9 880.4L759.0 879.2L759.1 878.0L759.1 876.8L759.2 875.6L759.3 874.4L759.3 873.2L759.4 872.0L759.4 870.8L759.5 869.6L759.6 868.4L759.6 868.0L759.6 867.2L759.7 866.0L759.8 864.8L759.8 863.6L759.9 862.4L760.0 861.2L760.1 860.0L760.1 858.8L760.2 857.6L760.3 856.4L760.3 855.2L760.4 854.0L760.5 852.8L760.5 851.6L760.6 850.4L760.7 849.2L760.7 848.0L760.8 846.8L760.8 846.6L760.9 845.6L760.9 844.4L761.0 843.1L761.0 841.9L761.1 840.7L761.1 839.5L761.2 838.3L761.3 837.1L761.3 835.9L761.4 834.7L761.4 833.5L761.5 832.3L761.5 831.1L761.6 829.9L761.7 828.7L761.7 827.5L761.8 826.3L761.8 825.1L761.9 823.9L761.9 822.7L762.0 821.5L762.0 820.3L762.1 819.1L762.1 817.9L762.2 816.7L762.2 815.5L762.3 814.3L762.3 813.1L762.4 811.9L762.4 810.7L762.5 809.5L762.5 808.3L762.6 807.1L762.6 805.9L762.7 804.7L762.7 803.4L762.8 802.2L762.8 801.0L762.9 799.8L762.9 798.6L763.0 797.4L763.0 796.6L763.0 796.2L763.1 795.0L763.1 793.8L763.2 792.6L763.2 791.4L763.2 790.2L763.3 789.0L763.3 787.8L763.4 786.6L763.4 785.4L763.5 784.2L763.5 783.0L763.6 781.8L763.6 780.6L763.6 779.4L763.7 778.2L763.7 777.0L763.8 775.8L763.8 774.6L763.9 773.4L763.9 772.2L763.9 771.0L764.0 769.8L764.0 768.5L764.1 767.3L764.1 766.1L764.1 764.9L764.2 763.7L764.2 762.5L764.3 761.3L764.3 760.1L764.4 758.9L764.4 757.7L764.4 756.5L764.5 755.3L764.5 754.1L764.6 752.9L764.6 751.7L764.7 750.5L764.7 749.3L764.7 748.1L764.8 746.9L764.8 746.6L764.8 745.7L764.9 744.5L764.9 743.3L765.0 742.1L765.0 740.9L765.1 739.7L765.1 738.5L765.1 737.3L765.2 736.1L765.2 734.9L765.3 733.6L765.3 732.4L765.4 731.2L765.4 730.0L765.5 728.8L765.5 727.6L765.6 726.4L765.6 725.2L765.6 724.0L765.7 722.8L765.7 721.6L765.8 720.4L765.8 719.2L765.9 718.0L765.9 716.8L766.0 715.6L766.0 714.4L766.1 713.2L766.1 712.0L766.2 710.8L766.2 709.6L766.3 708.4L766.3 707.2L766.4 706.0L766.4 705.0L766.4 704.8L766.5 703.6L766.5 702.4L766.6 701.2L766.6 700.0L766.7 698.8L766.7 697.5L766.8 696.3L766.8 695.1L766.9 693.9L766.9 692.7L767.0 691.5L767.1 690.3L767.1 689.1L767.2 687.9L767.2 686.7L767.3 685.5L767.3 684.3L767.4 683.1L767.4 681.9L767.5 680.7L767.5 680.0L767.5 679.5L767.6 678.3L767.6 677.1L767.7 675.9L767.7 674.7L767.8 673.5L767.8 672.3L767.8 671.1L767.9 669.9L767.9 668.7L768.0 667.5L768.0 666.3L768.1 665.1L768.1 663.9L768.1 662.7L768.2 661.5L768.2 660.2L768.3 659.0L768.3 657.8L768.3 656.6L768.4 655.4L768.4 654.2L768.5 653.0L768.5 651.8L768.6 650.6L768.6 649.4L768.6 648.2L768.7 647.0L768.7 645.8L768.8 644.6L768.8 643.4L768.9 642.2L768.9 641.0L769.0 639.8L769.0 638.6L769.1 637.4L769.1 636.6L769.1 636.2L769.2 635.0L769.2 633.8L769.3 632.6L769.3 631.4L769.4 630.2L769.4 629.0L769.5 627.8L769.6 626.6L769.6 625.4L769.7 624.1L769.7 622.9L769.8 621.7L769.8 620.5L769.9 619.3L770.0 618.1L770.0 616.9L770.1 615.7L770.2 614.5L770.2 613.3L770.3 612.1L770.3 610.9L770.4 609.7L770.5 608.5L770.5 607.3L770.6 606.1L770.7 604.9L770.7 603.7L770.8 602.5L770.8 601.3L770.9 600.1L771.0 598.9L771.0 597.7L771.1 596.5L771.2 595.3L771.2 594.1L771.3 592.9L771.3 591.7L771.4 590.5L771.5 589.3L771.5 588.1L771.6 586.9L771.6 586.6L771.6 585.7L771.7 584.5L771.8 583.3L771.8 582.1L771.9 580.9L771.9 579.6L772.0 578.4L772.0 577.2L772.1 576.0L772.1 574.8L772.2 573.6L772.3 572.4L772.3 571.2L772.4 570.0L772.4 568.8L772.5 567.6L772.5 566.4L772.6 565.2L772.6 564.0L772.7 562.8L772.7 561.6L772.8 560.4L772.8 559.2L772.9 558.0L773.0 556.8L773.0 555.6L773.1 554.4L773.1 553.2L773.2 552.0L773.3 550.8L773.3 549.6L773.4 548.4L773.4 547.2L773.5 546.0L773.6 544.8L773.7 543.6L773.7 542.4L773.8 541.2L773.9 540.0L774.0 538.8L774.0 537.6L774.1 536.6L774.1 536.4L774.2 535.2L774.3 534.0L774.4 532.8L774.5 531.5L774.6 530.4L774.7 529.2L774.8 528.0L774.9 526.8L775.0 525.6L775.2 524.4L775.3 523.2L775.4 522.0L775.5 520.8L775.7 519.6L775.8 518.4L775.9 517.2L776.1 516.0L776.2 514.8L776.4 513.6L776.5 512.4L776.6 511.6L776.7 511.2L776.8 510.0L777.0 508.8L777.1 507.6L777.3 506.4L777.4 505.2L777.6 504.0L777.8 502.8L778.0 501.6L778.2 500.4L778.3 499.3L778.5 498.1L778.8 496.9L779.0 495.7L779.1 495.0L779.2 494.5L779.4 493.3L779.7 492.2L780.0 491.0L780.8 492.0L781.5 493.1L782.2 494.2L782.9 495.3L783.6 496.4L784.1 497.5L784.6 498.6L784.9 499.8L785.0 500.0L785.2 500.9L785.5 502.1L785.7 503.3L785.9 504.6L786.1 505.8L786.2 507.1L786.4 508.3L786.5 509.6L786.7 510.9L786.8 512.1L787.0 513.4L787.1 514.7L787.3 515.9L787.4 516.6L787.5 517.2L787.7 518.4L787.9 519.6L788.0 520.9L788.2 522.1L788.4 523.4L788.6 524.6L788.8 525.8L789.0 527.1L789.2 528.3L789.4 529.6L789.6 530.8L790.6 530.1L791.7 529.5L792.7 528.8L793.8 528.2L794.9 527.6L795.0 527.5L795.9 526.9L797.0 526.2L798.2 525.5L799.3 525.1L800.0 525.0L800.4 525.0L801.5 525.3L802.7 525.9L803.8 526.6L804.8 527.4L805.0 527.5L805.7 528.1L806.6 528.9L807.4 529.9L808.2 530.8L808.9 531.9L809.7 532.9L810.5 533.8L811.4 534.8L811.6 535.0L812.2 535.6L813.2 536.4L814.2 537.1L815.2 537.9L816.2 538.6L817.2 539.3L818.2 540.1L819.1 540.8L820.0 541.6L820.1 541.7L820.9 542.5L821.8 543.4L822.7 544.3L823.5 545.2L824.3 546.1L825.1 547.1L825.9 548.1L826.6 549.1L826.6 549.1L827.3 550.1L827.9 551.1L828.5 552.2L829.2 553.2L829.7 554.3L830.3 555.5L830.8 556.6L836.6 552.5L837.2 553.6L837.7 554.7L838.2 555.8L838.6 556.9L839.0 558.0L839.1 558.3L839.4 559.2L839.7 560.4L839.9 561.5L840.2 562.7L840.4 563.9L840.7 565.1L840.9 566.3L841.1 567.5L841.3 568.7L841.6 569.9L841.6 570.0L841.8 571.0L842.1 572.2L842.3 573.4L842.5 574.6L842.8 575.8L843.0 577.0L843.2 578.2L843.5 579.4L843.7 580.5L843.9 581.7L844.2 582.9L844.4 584.1L844.6 585.3L844.9 586.5L844.9 586.6L845.1 587.7L845.4 588.8L845.6 590.0L845.9 591.2L846.1 592.4L846.3 593.6L846.6 594.8L846.8 595.9L847.1 597.1L847.3 598.3L847.6 599.5L847.8 600.7L848.0 601.9L848.3 603.1L848.3 603.3L848.5 604.2L848.7 605.4L848.9 606.6L849.1 607.8L849.3 609.0L849.5 610.2L849.7 611.4L850.0 612.6L850.2 613.8L850.4 615.0L850.5 616.2L850.7 617.4L850.9 618.6L851.1 619.8L851.3 620.9L851.4 622.1L851.6 623.3L851.6 623.3L851.8 624.5L851.9 625.7L852.1 626.9L852.2 628.1L852.4 629.3L852.5 630.5L852.6 631.7L852.8 632.9L852.9 634.1L853.0 635.3L853.2 636.5L853.3 637.8L853.4 639.0L853.6 640.2L853.7 641.4L853.8 642.6L853.9 643.8L854.1 645.0L854.2 646.2L854.3 647.4L854.4 648.6L854.5 649.8L854.7 651.0L854.8 652.2L854.9 653.2L854.9 653.4L855.0 654.6L855.2 655.8L855.3 657.0L855.4 658.2L855.6 659.4L855.7 660.6L855.9 661.8L856.0 663.0L856.1 664.2L856.3 665.4L856.4 666.6L856.5 667.8L856.6 669.0L856.8 670.2L856.9 671.4L857.0 672.6L857.1 673.8L857.2 675.1L857.3 676.3L857.4 677.5L857.4 678.2L857.4 678.7L857.5 679.9L857.6 681.1L857.6 682.3L857.7 683.5L857.7 684.7L857.8 685.9L857.9 687.1L857.9 688.3L858.0 689.5L858.0 690.7L858.0 692.0L858.1 693.2L858.1 694.4L858.2 695.6L858.2 696.8L858.3 698.0L858.3 699.2L858.4 700.4L858.4 701.6L858.5 702.8L858.6 704.0L858.6 705.0L858.6 705.2L858.7 706.5L858.7 707.7L858.8 708.9L858.9 710.1L859.0 711.3L859.0 712.5L859.1 713.7L859.2 714.9L859.3 716.1L859.3 717.3L859.4 718.5L859.5 719.7L859.6 720.9L859.7 722.1L859.7 723.4L859.8 724.6L859.9 725.8L860.0 727.0L860.1 728.2L860.2 729.4L860.3 730.6L860.3 731.8L860.4 733.0L860.5 734.2L860.6 735.4L860.7 736.6L860.8 737.8L860.8 738.3L860.9 739.0L860.9 740.2L861.0 741.4L861.1 742.7L861.2 743.9L861.3 745.1L861.4 746.3L861.5 747.5L861.5 748.7L861.6 749.9L861.7 751.1L861.8 752.3L861.9 753.5L862.0 754.7L862.1 755.9L862.2 757.1L862.3 758.3L862.4 759.5L862.4 760.7L862.5 762.0L862.6 763.2L862.7 764.4L862.8 765.6L862.9 766.8L863.0 768.0L863.1 769.2L863.2 770.4L863.3 771.6L863.3 771.6L863.4 772.8L863.5 774.0L863.6 775.2L863.7 776.4L863.8 777.6L863.9 778.8L864.0 780.0L864.1 781.2L864.2 782.4L864.3 783.7L864.4 784.9L864.5 786.1L864.6 787.3L864.7 788.5L864.8 789.7L864.9 790.9L865.0 792.1L865.1 793.3L865.2 794.5L865.4 795.7L865.5 796.9L865.6 798.1L865.7 799.3L865.8 799.9L865.9 800.5L866.0 801.7L866.1 803.0L866.2 804.3L866.3 805.5L866.5 806.8L866.7 808.0L866.8 809.2L867.1 810.3L867.3 811.3L867.4 811.6L867.7 812.3L868.4 813.3L869.3 814.2L870.3 815.0L871.3 815.8L871.7 814.6L872.2 813.5L872.6 812.3L873.0 811.1L873.4 809.9L873.8 808.8L874.2 807.6L874.5 806.4L874.8 805.2L874.9 804.9L875.1 804.0L875.4 802.8L875.7 801.6L875.9 800.3L876.2 799.1L876.4 797.9L876.6 796.7L876.9 795.5L877.1 794.2L877.3 793.0L877.6 791.8L877.8 790.6L878.1 789.4L878.3 788.3L878.3 788.1L878.6 786.9L878.9 785.7L879.2 784.5L879.5 783.3L879.8 782.1L880.1 780.9L880.4 779.7L880.7 778.5L881.1 777.3L881.4 776.1L881.7 774.9L882.1 773.7L882.4 772.5L882.8 773.7L883.2 774.8L883.5 776.0L883.9 777.1L884.3 778.3L884.6 779.4L884.9 780.6L885.2 781.8L885.5 782.9L885.8 784.1L886.1 785.3L886.3 786.5L886.5 787.6L886.6 788.3L886.7 788.8L886.8 790.0L887.0 791.2L887.1 792.4L887.3 793.6L887.4 794.8L887.5 796.0L887.6 797.2L887.8 798.4L887.9 799.6L888.0 800.8L888.1 802.0L888.2 803.2L888.3 804.4L888.4 805.6L888.5 806.8L888.6 808.0L888.7 809.2L888.8 810.4L888.9 811.6L889.0 812.8L889.1 813.3L889.2 814.0L889.3 815.2L889.5 816.4L889.6 817.6L889.8 818.8L889.9 820.0L890.1 821.2L890.2 822.4L890.4 823.6L890.5 824.8L890.7 826.0L890.8 827.2L891.0 828.4L891.2 829.6L891.3 830.8L891.5 832.0L891.7 833.2L891.8 834.4L892.0 835.6L892.2 836.8L892.4 838.0L892.4 838.3L892.5 839.2L892.7 840.4L892.9 841.5L893.1 842.7L893.2 843.9L893.4 845.1L893.6 846.3L893.8 847.5L894.0 848.7L894.1 849.9L894.3 851.1L894.5 852.3L894.7 853.5L894.9 854.7L895.1 855.9L895.4 857.1L895.6 858.2L895.8 859.4L896.0 860.6L896.3 861.8L896.5 863.0L896.6 863.2L896.8 864.1L897.1 865.3L897.4 866.4L897.7 867.6L898.1 868.8L898.5 869.9L898.8 871.1L899.2 872.2L899.6 873.4L900.0 874.5L900.4 875.6L900.7 876.8L901.1 877.9L901.5 879.1L901.9 880.2L902.2 881.4L902.4 882.0L902.6 882.6L902.9 883.7L903.2 884.9L903.5 886.1L903.8 887.2L904.1 888.4L904.4 889.6L904.8 890.7L905.1 891.9L905.4 893.1L905.7 894.2L906.0 895.4L906.3 896.5L906.7 897.7L907.0 898.9L907.4 900.0L907.4 900.0L907.8 901.1L908.2 902.3L908.6 903.4L909.0 904.5L909.4 905.7L909.9 906.8L910.3 907.9L910.8 909.0L911.2 910.2L911.7 911.3L912.2 912.4L912.7 913.5L913.1 914.6L913.3 915.0L913.6 915.7L914.1 916.8L914.6 917.9L915.1 919.0L915.6 920.1L916.1 921.2L916.6 922.3L917.1 923.4L917.6 924.5L918.1 925.6L918.7 926.7L919.2 927.7L919.8 928.8L919.9 929.1L920.3 929.9L920.9 931.0L921.4 932.0L922.0 933.1L922.5 934.2L923.1 935.3L923.7 936.3L924.3 937.4L925.0 938.4L925.6 939.4L926.3 940.4L926.6 940.8L927.0 941.3L927.7 942.2L928.5 943.1L929.4 944.0L930.2 944.9L931.1 945.7L932.0 946.6L932.9 947.4L933.8 948.2L934.7 949.0L935.6 949.8L936.5 950.7L936.6 950.8L937.3 951.5L938.2 952.3L939.1 953.1L940.0 953.9L940.9 954.7L941.8 955.5L942.7 956.3L943.7 957.1L944.6 957.9L945.5 958.6L946.4 959.4L947.4 960.2L948.2 960.8L948.3 960.9L949.3 961.6L950.2 962.4L951.2 963.1L952.2 963.9L953.1 964.6L954.1 965.3L955.1 966.0L956.1 966.7L957.1 967.4L958.1 968.0L959.1 968.6L959.9 969.1L960.2 969.2L961.2 969.8L962.2 970.4L963.3 971.0L964.4 971.5L965.5 972.1L966.5 972.6L967.6 973.2L968.7 973.7L969.8 974.2L970.9 974.7L972.0 975.2L973.2 975.7L974.3 976.1L975.4 976.6L976.5 977.0L977.6 977.5L978.8 977.9L979.9 978.3L979.9 978.3L981.0 978.7L982.2 979.1L983.3 979.4L984.5 979.8L985.6 980.1L986.8 980.5L987.9 980.8L989.1 981.1L990.3 981.4L991.4 981.8L992.6 982.1L993.8 982.4L994.9 982.7L996.1 983.0L997.3 983.3L998.4 983.7L999.6 984.0L999.9 984.1L1000.8 984.4L1001.9 984.7L1003.1 985.1L1004.2 985.5L1005.4 985.8L1006.5 986.2L1007.7 986.6L1008.8 987.0L1009.9 987.4L1011.1 987.7L1012.2 988.1L1013.4 988.5L1014.5 988.9L1015.7 989.2L1016.8 989.6L1018.0 989.9L1019.2 990.2L1020.3 990.5L1021.5 990.8L1021.5 990.8L1022.7 991.1L1023.8 991.3L1025.0 991.6L1026.2 991.8L1027.4 992.1L1028.6 992.3L1029.7 992.6L1030.9 992.8L1032.1 993.0L1033.3 993.2L1034.5 993.4L1035.7 993.6L1036.9 993.9L1038.1 994.1L1038.2 994.1L1039.3 994.3L1040.4 994.5L1041.6 994.7L1042.8 994.9L1044.0 995.1L1045.2 995.3L1046.4 995.4L1047.6 995.6L1048.8 995.8L1050.0 996.0L1051.2 996.2L1052.4 996.4L1053.5 996.6L1054.7 996.9L1054.9 996.9L1055.9 997.1L1057.1 997.3L1058.3 997.6L1059.5 997.8L1060.7 998.0L1061.9 998.3L1063.1 998.5L1064.2 998.8L1065.4 999.0L1066.6 999.3L1067.8 999.6L1069.0 999.9L1070.1 1000.2L1071.3 1000.5L1072.4 1000.8L1073.6 1001.2L1074.7 1001.6L1074.8 1001.6L1075.8 1002.0L1077.0 1002.4L1078.2 1002.9L1079.3 1003.4L1080.3 1004.0L1081.3 1004.7L1081.5 1004.9L1082.1 1005.4L1082.8 1006.3L1083.5 1007.3L1084.2 1008.4L1084.7 1009.5L1085.3 1010.7L1085.7 1011.6L1085.8 1011.8L1086.2 1012.9L1086.6 1014.0L1086.9 1015.2L1087.2 1016.3L1087.6 1017.5L1087.9 1018.7L1088.2 1019.9L1088.5 1021.0L1088.9 1022.2L1089.0 1022.4L1089.3 1023.4L1089.7 1024.7L1090.1 1026.0L1090.6 1027.1L1091.2 1028.0L1091.5 1028.2L1091.9 1028.4L1093.0 1028.8L1094.3 1029.0L1095.7 1029.1L1096.0 1027.9L1096.2 1026.7L1096.5 1025.6L1096.7 1024.4L1096.9 1023.2L1097.2 1022.0L1097.4 1020.8L1097.6 1019.6L1097.8 1018.4L1098.0 1017.3L1098.2 1016.1L1098.4 1014.9L1098.6 1013.7L1098.7 1012.5L1098.9 1011.3L1099.0 1010.1L1099.0 1009.9L1099.1 1008.9L1099.2 1007.7L1099.3 1006.5L1099.4 1005.3L1099.5 1004.1L1099.6 1002.9L1099.6 1001.7L1099.7 1000.5L1099.8 999.3L1099.9 998.1L1099.9 996.9L1100.0 995.7L1100.1 994.5L1100.1 993.3L1100.2 992.1L1100.2 990.9L1100.3 989.7L1100.4 988.5L1100.5 987.3L1100.5 986.1L1100.6 984.9L1100.6 984.9L1100.7 983.7L1100.8 982.5L1100.8 981.3L1100.9 980.1L1101.0 978.9L1101.1 977.7L1101.1 976.5L1101.2 975.3L1101.3 974.1L1101.4 972.9L1101.5 971.7L1101.5 970.5L1101.6 969.3L1101.7 968.1L1101.8 966.9L1101.9 965.7L1101.9 964.5L1102.0 963.3L1102.1 962.1L1102.2 960.9L1102.3 959.7L1102.3 958.5L1102.4 957.3L1102.5 956.1L1102.6 954.9L1102.7 953.7L1102.7 952.5L1102.8 951.3L1102.9 950.1L1103.0 948.8L1103.1 947.6L1103.1 946.4L1103.2 945.2L1103.3 944.0L1103.4 942.8L1103.5 941.6L1103.5 940.4L1103.6 939.2L1103.7 938.0L1103.8 936.8L1103.9 935.6L1103.9 934.4L1104.0 933.2L1104.1 932.0L1104.2 930.8L1104.2 929.6L1104.3 928.4L1104.4 927.2L1104.5 926.0L1104.5 924.8L1104.6 923.6L1104.7 922.4L1104.8 921.2L1104.8 920.0L1104.9 918.8L1105.0 917.6L1105.1 916.4L1105.1 915.2L1105.2 914.0L1105.2 914.0L1105.3 912.8L1105.3 911.6L1105.4 910.4L1105.5 909.2L1105.5 908.0L1105.6 906.8L1105.7 905.6L1105.8 904.4L1105.8 903.2L1105.9 902.0L1106.0 900.8L1106.0 899.6L1106.1 898.4L1106.2 897.2L1106.2 896.0L1106.3 894.8L1106.4 893.6L1106.4 892.4L1106.5 891.2L1106.5 890.0L1106.6 888.8L1106.7 887.6L1106.7 886.4L1106.8 885.2L1106.9 884.0L1106.9 882.8L1107.0 881.6L1107.1 880.3L1107.1 879.1L1107.2 877.9L1107.3 876.7L1107.3 875.5L1107.4 874.3L1107.4 873.1L1107.5 871.9L1107.6 870.7L1107.6 869.5L1107.7 868.3L1107.8 867.1L1107.8 865.9L1107.9 864.7L1107.9 863.5L1108.0 862.3L1108.1 861.1L1108.1 859.9L1108.2 858.7L1108.3 857.5L1108.3 856.6L1108.3 856.3L1108.4 855.1L1108.4 853.9L1108.5 852.7L1108.6 851.5L1108.6 850.3L1108.7 849.1L1108.8 847.9L1108.8 846.7L1108.9 845.5L1109.0 844.3L1109.0 843.1L1109.1 841.9L1109.1 840.7L1109.2 839.5L1109.3 838.3L1109.3 837.1L1109.4 835.9L1109.5 834.7L1109.5 833.5L1109.6 832.3L1109.6 831.1L1109.7 829.9L1109.8 828.6L1109.8 827.4L1109.9 826.2L1110.0 825.0L1110.0 823.8L1110.1 822.6L1110.1 821.4L1110.2 820.2L1110.2 819.0L1110.3 817.8L1110.4 816.6L1110.4 815.4L1110.5 814.2L1110.5 813.0L1110.6 811.8L1110.6 810.6L1110.7 809.4L1110.7 808.2L1110.8 807.0L1110.8 806.6L1110.8 805.8L1110.9 804.6L1110.9 803.4L1111.0 802.2L1111.0 801.0L1111.1 799.8L1111.1 798.6L1111.2 797.4L1111.2 796.2L1111.2 795.0L1111.3 793.8L1111.3 792.6L1111.4 791.4L1111.4 790.2L1111.4 789.0L1111.5 787.8L1111.5 786.6L1111.6 785.3L1111.6 784.1L1111.6 782.9L1111.7 781.7L1111.7 780.5L1111.8 779.3L1111.8 778.1L1111.8 776.9L1111.9 775.7L1111.9 774.5L1111.9 773.3L1112.0 772.1L1112.0 770.9L1112.1 769.7L1112.1 768.5L1112.1 767.3L1112.2 766.1L1112.2 764.9L1112.3 763.7L1112.3 762.5L1112.3 761.3L1112.4 760.1L1112.4 758.9L1112.5 757.7L1112.5 756.6L1112.5 756.5L1112.5 755.3L1112.6 754.1L1112.6 752.9L1112.7 751.7L1112.7 750.5L1112.8 749.2L1112.8 748.0L1112.8 746.8L1112.9 745.6L1112.9 744.4L1113.0 743.2L1113.0 742.0L1113.1 740.8L1113.1 739.6L1113.1 738.4L1113.2 737.2L1113.2 736.0L1113.3 734.8L1113.3 733.6L1113.4 732.4L1113.4 731.2L1113.5 730.0L1113.5 728.8L1113.6 727.6L1113.6 726.4L1113.7 725.2L1113.7 724.0L1113.7 724.0L1113.8 722.8L1113.8 721.6L1113.9 720.4L1113.9 719.2L1114.0 718.0L1114.0 716.8L1114.1 715.6L1114.2 714.4L1114.2 713.2L1114.3 712.0L1114.3 710.8L1114.4 709.6L1114.5 708.4L1114.5 707.1L1114.6 705.9L1114.7 704.7L1114.7 703.5L1114.8 702.3L1114.8 701.1L1114.9 699.9L1114.9 698.7L1115.0 697.5L1115.1 696.3L1115.1 695.1L1115.2 693.9L1115.2 692.7L1115.2 691.5L1115.3 690.3L1115.3 690.0L1115.3 689.1L1115.4 687.9L1115.4 686.7L1115.4 685.5L1115.5 684.3L1115.5 683.1L1115.5 681.9L1115.5 680.7L1115.6 679.5L1115.6 678.3L1115.6 677.1L1115.7 675.9L1115.7 674.7L1115.7 673.5L1115.7 672.3L1115.8 671.1L1115.8 669.9L1115.8 668.6L1115.9 667.4L1115.9 666.6L1115.9 666.2L1116.0 665.0L1116.0 663.8L1116.0 662.6L1116.1 661.4L1116.1 660.2L1116.2 659.0L1116.2 657.8L1116.3 656.6L1116.3 655.4L1116.4 654.2L1116.4 653.0L1116.5 651.8L1116.5 650.6L1116.6 649.4L1116.6 648.2L1116.7 647.0L1116.8 645.8L1116.8 644.6L1116.9 643.4L1116.9 642.2L1117.0 641.0L1117.1 639.8L1117.1 638.6L1117.2 637.4L1117.2 636.2L1117.3 635.0L1117.4 633.8L1117.4 632.6L1117.5 631.4L1117.6 630.2L1117.6 629.0L1117.7 627.8L1117.8 626.6L1117.8 625.4L1117.9 624.2L1118.0 622.9L1118.0 621.7L1118.1 620.5L1118.2 619.3L1118.2 618.1L1118.3 616.9L1118.3 616.6L1118.3 615.7L1118.4 614.5L1118.5 613.3L1118.5 612.1L1118.6 610.9L1118.7 609.7L1118.7 608.5L1118.8 607.3L1118.9 606.1L1118.9 604.9L1119.0 603.7L1119.1 602.5L1119.1 601.3L1119.2 600.1L1119.3 598.9L1119.3 597.7L1119.4 596.5L1119.5 595.3L1119.5 594.1L1119.6 592.9L1119.7 591.7L1119.8 590.5L1119.8 589.3L1119.9 588.1L1120.0 586.9L1120.1 585.7L1120.1 584.5L1120.2 583.3L1120.3 582.1L1120.4 580.9L1120.5 579.7L1120.5 578.5L1120.6 577.3L1120.7 576.1L1120.8 575.0L1120.8 574.9L1120.9 573.7L1121.0 572.5L1121.1 571.3L1121.2 570.1L1121.2 568.8L1121.3 567.6L1121.4 566.4L1121.5 565.2L1121.6 564.0L1121.7 562.8L1121.8 561.5L1121.8 560.3L1121.9 559.1L1122.0 557.9L1122.1 556.7L1122.3 555.5L1122.4 554.3L1122.5 553.1L1122.6 551.9L1122.8 550.7L1122.9 549.5L1123.0 548.3L1123.2 547.1L1123.4 546.0L1123.6 544.8L1123.7 543.6L1123.9 542.5L1124.1 541.6L1124.2 541.3L1124.4 540.2L1124.8 539.1L1125.3 538.0L1125.8 536.9L1126.3 535.8L1126.9 534.7L1127.4 533.6L1128.0 532.5L1128.1 533.8L1128.3 535.1L1128.5 536.3L1128.7 537.6L1128.9 538.9L1129.2 540.1L1129.4 541.4L1129.7 542.6L1130.0 543.9L1130.3 545.1L1130.6 546.3L1130.9 547.6L1131.3 548.8L1131.6 550.0L1131.6 550.0L1132.0 551.2L1132.3 552.4L1132.8 553.6L1133.2 554.8L1133.7 556.0L1134.2 557.1L1134.7 558.3L1135.2 559.5L1135.8 560.6L1136.3 561.8L1136.9 563.0L1137.5 564.1L1138.0 562.6L1138.5 561.2L1139.1 559.9L1139.8 558.7L1140.6 557.7L1141.4 556.8L1142.3 556.2L1143.2 555.8L1143.3 555.8L1144.2 555.6L1145.5 555.4L1146.8 555.2L1148.1 555.1L1149.4 555.0L1150.0 555.0L1150.5 555.1L1151.6 555.4L1152.6 556.1L1153.6 557.0L1154.6 558.0L1155.5 559.0L1156.5 559.9L1156.6 560.0L1157.4 560.7L1158.4 561.6L1159.3 562.5L1160.2 563.4L1161.1 564.3L1162.1 565.0L1163.1 565.7L1163.3 565.8L1164.2 566.2L1165.4 566.5L1166.7 566.9L1167.8 567.3L1168.3 567.5L1168.9 567.8L1169.9 568.5L1170.8 569.3L1171.7 570.1L1172.6 571.1L1173.4 572.2L1174.1 573.3L1179.1 569.1L1179.8 570.1L1180.5 571.1L1181.1 572.2L1181.8 573.2L1182.3 574.3L1182.8 575.4L1183.3 576.5L1183.3 576.6L1183.6 577.6L1183.9 578.7L1184.3 579.9L1184.5 581.0L1184.8 582.2L1185.0 583.4L1185.3 584.6L1185.5 585.8L1185.7 587.0L1185.9 588.2L1186.2 589.4L1186.4 590.6L1186.6 591.6L1186.6 591.8L1186.9 593.0L1187.1 594.2L1187.4 595.3L1187.6 596.5L1187.8 597.7L1188.1 598.9L1188.3 600.1L1188.5 601.3L1188.8 602.5L1189.0 603.6L1189.2 604.8L1189.4 606.0L1189.7 607.2L1189.9 608.3L1189.9 608.4L1190.2 609.6L1190.4 610.7L1190.7 611.9L1190.9 613.1L1191.2 614.3L1191.4 615.5L1191.7 616.7L1191.9 617.8L1192.2 619.0L1192.4 620.2L1192.7 621.4L1192.9 622.6L1193.1 623.8L1193.3 624.9L1193.3 625.0L1193.5 626.1L1193.7 627.3L1193.8 628.5L1194.0 629.7L1194.2 630.9L1194.3 632.1L1194.5 633.3L1194.7 634.5L1194.8 635.7L1195.0 636.9L1195.1 638.1L1195.3 639.3L1195.4 640.5L1195.6 641.7L1195.7 642.9L1195.9 644.1L1196.0 645.3L1196.1 646.5L1196.3 647.7L1196.5 648.9L1196.6 650.0L1196.6 650.1L1196.8 651.3L1196.9 652.5L1197.1 653.7L1197.3 654.9L1197.4 656.1L1197.6 657.3L1197.7 658.5L1197.9 659.7L1198.1 660.9L1198.2 662.1L1198.4 663.3L1198.6 664.5L1198.7 665.6L1198.9 666.8L1199.0 668.0L1199.2 669.2L1199.3 670.4L1199.5 671.6L1199.6 672.8L1199.8 674.0L1199.9 674.9L1199.9 675.2L1200.1 676.4L1200.2 677.6L1200.4 678.8L1200.5 680.0L1200.7 681.2L1200.8 682.4L1200.9 683.6L1201.1 684.8L1201.2 686.0L1201.3 687.2L1201.5 688.4L1201.6 689.6L1201.6 690.0L1201.7 690.8L1201.8 692.0L1201.9 693.2L1202.0 694.4L1202.1 695.6L1202.2 696.8L1202.3 698.1L1202.4 699.3L1202.5 700.5L1202.6 701.7L1202.7 702.9L1202.7 704.1L1202.8 705.3L1202.9 706.5L1203.0 707.7L1203.1 708.9L1203.2 710.1L1203.2 711.3L1203.3 712.5L1203.4 713.7L1203.5 714.9L1203.6 716.1L1203.7 717.3L1203.8 718.5L1203.8 719.7L1203.9 720.9L1204.0 722.1L1204.1 723.3L1204.1 723.4L1204.2 724.6L1204.3 725.8L1204.4 727.0L1204.5 728.2L1204.5 729.4L1204.6 730.6L1204.7 731.8L1204.8 733.0L1204.9 734.2L1205.0 735.4L1205.1 736.6L1205.1 737.8L1205.2 739.0L1205.3 740.2L1205.4 741.4L1205.5 742.6L1205.6 743.8L1205.7 745.0L1205.8 746.2L1205.9 747.4L1206.0 748.6L1206.0 749.9L1206.1 751.1L1206.2 752.3L1206.3 753.5L1206.4 754.7L1206.5 755.9L1206.6 756.6L1206.6 757.1L1206.7 758.3L1206.9 759.5L1207.0 760.7L1207.1 761.9L1207.2 763.1L1207.3 764.3L1207.4 765.5L1207.5 766.7L1207.7 767.9L1207.8 769.1L1207.9 770.3L1208.0 771.5L1208.2 772.7L1208.3 773.9L1208.4 775.1L1208.5 776.3L1208.7 777.5L1208.8 778.7L1208.9 779.9L1209.0 781.1L1209.1 781.6L1209.2 782.3L1209.3 783.5L1209.4 784.7L1209.6 785.9L1209.7 787.1L1209.8 788.3L1209.9 789.5L1210.1 790.7L1210.2 791.9L1210.3 793.1L1210.5 794.3L1210.6 795.5L1210.8 796.7L1210.9 797.9L1211.1 799.1L1211.2 800.3L1211.4 801.5L1211.5 802.7L1211.6 803.3L1211.7 803.9L1211.8 805.1L1212.0 806.3L1212.2 807.5L1212.3 808.7L1212.5 809.9L1212.7 811.1L1212.9 812.3L1213.1 813.5L1213.3 814.7L1213.5 815.9L1213.8 817.0L1214.1 818.2L1214.1 818.3L1214.4 819.3L1214.8 820.5L1215.3 821.6L1215.6 820.4L1215.9 819.3L1216.2 818.1L1216.5 817.0L1216.8 815.8L1217.1 814.6L1217.4 813.5L1217.7 812.3L1218.0 811.1L1218.3 810.0L1218.6 808.8L1218.9 807.6L1219.1 806.6L1219.1 806.4L1219.4 805.3L1219.7 804.1L1219.9 802.9L1220.1 801.7L1220.4 800.5L1220.6 799.4L1220.8 798.2L1221.1 797.0L1221.3 795.8L1221.6 794.7L1221.9 793.5L1222.2 792.3L1222.4 791.6L1222.5 791.2L1222.9 789.8L1223.2 788.3L1223.7 786.9L1224.1 785.9L1224.7 785.3L1224.9 785.3L1225.6 785.4L1226.9 785.6L1228.3 785.9L1229.5 786.3L1229.9 786.6L1230.1 786.8L1230.5 787.5L1230.8 788.4L1231.1 789.5L1231.4 790.8L1231.6 792.1L1231.8 793.5L1232.0 795.0L1232.1 796.3L1232.3 797.6L1232.4 798.3L1232.5 798.9L1232.6 800.0L1232.8 801.2L1232.9 802.4L1233.1 803.6L1233.2 804.8L1233.3 806.0L1233.4 807.2L1233.5 808.4L1233.6 809.6L1233.7 810.8L1233.8 812.0L1234.0 813.2L1234.1 814.4L1234.2 815.6L1234.3 816.8L1234.4 818.0L1234.5 819.2L1234.6 820.4L1234.7 821.6L1234.8 822.8L1234.9 823.3L1235.0 824.0L1235.1 825.2L1235.2 826.4L1235.4 827.6L1235.5 828.8L1235.7 830.0L1235.8 831.1L1235.9 832.3L1236.1 833.5L1236.2 834.7L1236.4 835.9L1236.5 837.1L1236.7 838.3L1236.9 839.5L1237.0 840.7L1237.2 841.9L1237.4 843.1L1237.4 843.3L1237.5 844.3L1237.7 845.4L1237.9 846.6L1238.1 847.8L1238.3 849.0L1238.5 850.2L1238.7 851.4L1238.9 852.6L1239.1 853.8L1239.3 854.9L1239.6 856.1L1239.8 857.3L1240.0 858.5L1240.3 859.6L1240.5 860.8L1240.7 861.6L1240.8 862.0L1241.1 863.2L1241.4 864.3L1241.7 865.5L1242.0 866.6L1242.3 867.8L1242.7 868.9L1243.0 870.1L1243.4 871.3L1243.7 872.4L1244.1 873.6L1244.4 874.7L1244.8 875.9L1245.0 876.7L1245.1 877.0L1245.4 878.2L1245.8 879.3L1246.1 880.5L1246.5 881.6L1246.8 882.8L1247.2 883.9L1247.5 885.1L1247.9 886.2L1248.2 887.4L1248.6 888.5L1248.9 889.7L1249.3 890.8L1249.6 892.0L1249.9 893.1L1250.0 893.3L1250.3 894.3L1250.6 895.4L1251.0 896.6L1251.3 897.7L1251.6 898.9L1252.0 900.1L1252.3 901.2L1252.7 902.4L1253.0 903.5L1253.3 904.7L1253.7 905.8L1254.0 907.0L1254.4 908.1L1254.8 909.3L1255.0 910.0L1255.1 910.4L1255.5 911.6L1255.9 912.7L1256.2 913.9L1256.6 915.0L1256.9 916.2L1257.3 917.4L1257.7 918.5L1258.1 919.6L1258.5 920.8L1259.0 921.9L1259.5 922.9L1260.0 924.0L1260.0 924.1L1260.5 925.0L1261.1 926.0L1261.8 927.0L1262.5 928.0L1263.3 928.9L1264.1 929.9L1264.8 930.8L1265.6 931.8L1266.3 932.8L1266.6 933.3L1266.9 933.8L1267.5 934.8L1268.1 935.9L1268.7 937.0L1269.3 938.0L1269.9 939.1L1270.5 940.1L1271.2 941.1L1271.6 941.6L1271.9 942.0L1272.7 942.9L1273.5 943.7L1274.4 944.6L1275.2 945.4L1276.1 946.2L1277.1 947.0L1278.0 947.8L1278.9 948.5L1279.9 949.3L1280.8 950.1L1281.6 950.8L1281.7 950.9L1282.6 951.7L1283.5 952.5L1284.4 953.3L1285.3 954.1L1286.2 955.0L1287.1 955.8L1288.0 956.6L1288.9 957.4L1289.8 958.1L1290.7 958.9L1291.7 959.6L1292.6 960.3L1293.3 960.8L1293.6 961.0L1294.6 961.7L1295.6 962.3L1296.7 962.9L1297.7 963.5L1298.8 964.1L1299.8 964.7L1300.9 965.3L1301.9 965.8L1303.0 966.4L1303.3 966.6L1304.0 967.0L1305.1 967.6L1306.1 968.3L1307.1 968.9L1308.2 969.5L1309.2 970.1L1310.2 970.8L1311.3 971.4L1312.3 971.9L1313.4 972.5L1314.5 973.0L1315.0 973.3L1315.5 973.6L1316.6 974.0L1317.7 974.5L1318.8 975.0L1319.9 975.5L1321.0 976.0L1322.1 976.4L1323.3 976.9L1324.4 977.3L1325.5 977.7L1326.6 978.2L1327.8 978.6L1328.9 979.0L1330.0 979.4L1331.2 979.8L1332.3 980.2L1333.5 980.6L1334.6 981.0L1335.7 981.3L1336.6 981.6L1336.9 981.7L1338.0 982.0L1339.2 982.4L1340.3 982.7L1341.5 983.0L1342.7 983.3L1343.8 983.6L1345.0 983.9L1346.2 984.2L1347.4 984.4L1348.5 984.7L1349.7 985.0L1350.9 985.3L1352.1 985.6L1353.2 985.9L1354.4 986.2L1355.6 986.5L1356.7 986.8L1357.9 987.1L1359.0 987.5L1360.2 987.8L1361.3 988.2L1361.6 988.3L1362.4 988.6L1363.5 989.1L1364.6 989.7L1365.7 990.4L1366.7 991.0L1367.8 991.6L1368.9 992.1L1370.0 992.5L1371.1 992.8L1371.6 992.8L1372.3 992.8L1373.5 992.9L1374.6 993.0L1375.8 993.0L1377.0 993.0L1378.3 993.0L1379.5 993.1L1380.7 993.1L1381.9 993.1L1383.1 993.2L1384.3 993.2L1385.5 993.2L1386.6 993.3L1386.7 993.3L1387.9 993.4L1389.1 993.7L1390.2 994.0L1391.4 994.3L1392.6 994.7L1393.7 995.1L1394.9 995.4L1396.0 995.8L1397.2 996.1L1398.4 996.4L1399.6 996.6L1399.9 996.6L1400.7 996.7L1402.0 996.7L1403.2 996.8L1404.4 996.9L1405.6 996.9L1406.8 996.9L1408.1 997.0L1409.3 997.0L1410.5 997.1L1411.7 997.1L1412.9 997.2L1414.0 997.3L1414.9 997.4L1415.1 997.4L1416.2 997.9L1417.3 998.6L1418.3 999.3L1419.4 999.8L1419.9 999.9L1420.5 1000.0L1421.7 1000.1L1422.9 1000.2L1424.0 1000.3L1425.2 1000.3L1426.4 1000.4L1427.6 1000.5L1428.9 1000.5L1430.1 1000.5L1431.3 1000.6L1432.5 1000.6L1433.8 1000.7L1435.0 1000.7L1436.2 1000.8L1436.6 1000.8L1437.4 1000.8L1438.6 1000.9L1439.8 1001.0L1441.0 1001.0L1442.2 1001.1L1443.4 1001.1L1444.6 1001.2L1445.8 1001.2L1447.0 1001.3L1448.2 1001.4L1449.4 1001.4L1450.6 1001.5L1451.8 1001.5L1453.0 1001.6L1453.2 1001.6L1454.2 1001.6L1455.4 1001.7L1456.6 1001.8L1457.8 1001.8L1459.0 1001.9L1460.2 1001.9L1461.4 1002.0L1462.6 1002.0L1463.8 1002.1L1465.0 1002.1L1466.2 1002.2L1467.4 1002.3L1468.6 1002.3L1469.8 1002.4L1469.9 1002.4L1471.0 1002.5L1472.2 1002.5L1473.4 1002.6L1474.6 1002.7L1475.8 1002.8L1477.0 1002.9L1478.2 1002.9L1479.4 1003.0L1480.6 1003.1L1481.8 1003.2L1483.0 1003.3L1484.2 1003.4L1485.4 1003.5L1486.6 1003.5L1487.8 1003.6L1489.0 1003.7L1490.2 1003.8L1491.4 1003.9L1492.6 1004.0L1493.8 1004.0L1494.9 1004.1L1495.0 1004.1L1496.2 1004.2L1497.4 1004.2L1498.6 1004.3L1499.8 1004.4L1501.0 1004.5L1502.2 1004.5L1503.4 1004.6L1504.6 1004.7L1505.8 1004.7L1507.0 1004.8L1508.2 1004.8L1509.4 1004.9L1510.6 1005.0L1511.8 1005.0L1513.0 1005.1L1514.2 1005.1L1515.4 1005.2L1516.6 1005.3L1517.8 1005.3L1519.0 1005.4L1519.9 1005.4L1520.2 1005.4L1521.4 1005.5L1522.6 1005.5L1523.8 1005.6L1525.0 1005.6L1526.2 1005.6L1527.4 1005.7L1528.6 1005.7L1529.8 1005.8L1531.0 1005.8L1532.2 1005.8L1533.4 1005.9L1534.6 1005.9L1535.8 1006.0L1537.0 1006.0L1538.2 1006.0L1539.4 1006.1L1540.0 1006.1L1540.6 1006.1L1541.8 1006.2L1543.0 1006.2L1544.2 1006.3L1545.4 1006.3L1546.6 1006.4L1547.8 1006.4L1549.0 1006.5L1550.2 1006.5L1551.4 1006.6L1552.6 1006.6L1553.9 1006.7L1555.1 1006.7L1556.3 1006.8L1557.5 1006.8L1558.7 1006.8L1559.9 1006.9L1561.1 1006.9L1562.3 1007.0L1563.5 1007.0L1564.2 1007.0L1564.7 1007.0L1565.9 1007.0L1567.1 1007.1L1568.3 1007.1L1569.5 1007.1L1570.7 1007.1L1571.9 1007.2L1573.1 1007.2L1574.3 1007.2L1575.5 1007.2L1576.7 1007.3L1577.9 1007.3L1579.1 1007.3L1580.3 1007.3L1581.5 1007.4L1582.7 1007.4L1583.9 1007.4L1585.1 1007.4L1586.3 1007.4L1587.5 1007.5L1588.7 1007.5L1589.9 1007.5L1591.1 1007.5L1592.3 1007.5L1593.5 1007.5L1594.7 1007.6L1595.9 1007.6L1597.1 1007.6L1598.3 1007.6L1599.5 1007.6L1600.7 1007.6L1601.9 1007.6L1603.1 1007.7L1604.3 1007.7L1605.5 1007.7L1606.7 1007.7L1607.9 1007.7L1609.1 1007.7L1610.3 1007.7L1611.5 1007.7L1612.7 1007.7L1613.9 1007.7L1614.4 1007.7L1615.2 1007.7L1616.4 1007.7L1617.6 1007.7L1618.8 1007.7L1620.0 1007.7L1621.2 1007.7L1622.4 1007.7L1623.6 1007.7L1624.8 1007.7L1626.0 1007.7L1627.2 1007.7L1628.4 1007.7L1629.6 1007.7L1630.8 1007.7L1632.0 1007.7L1633.2 1007.7L1634.4 1007.7L1635.6 1007.7L1636.8 1007.7L1638.0 1007.7L1639.2 1007.7L1640.4 1007.7L1641.6 1007.7L1642.8 1007.7L1644.0 1007.7L1645.2 1007.7L1646.4 1007.7L1647.6 1007.7L1648.8 1007.7L1650.0 1007.7L1651.2 1007.7L1652.4 1007.7L1653.6 1007.7L1654.8 1007.7L1656.0 1007.7L1657.2 1007.7L1658.4 1007.7L1659.6 1007.7L1660.8 1007.7L1662.0 1007.7L1663.2 1007.7L1664.4 1007.7L1665.6 1007.7L1666.8 1007.7L1668.0 1007.7L1669.3 1007.7L1670.5 1007.7L1671.7 1007.7L1672.9 1007.7L1674.1 1007.7L1675.3 1007.7L1676.5 1007.7L1677.7 1007.7L1678.9 1007.7L1680.1 1007.7L1681.3 1007.7L1681.3 1007.7L1682.5 1007.7L1683.7 1007.7L1684.9 1007.7L1686.1 1007.7L1687.3 1007.7L1688.5 1007.7L1689.7 1007.7L1690.9 1007.7L1692.1 1007.7L1693.3 1007.7L1694.5 1007.7L1695.7 1007.7L1696.9 1007.7L1698.1 1007.7L1699.3 1007.7L1700.5 1007.7L1701.7 1007.7L1702.9 1007.7L1704.1 1007.7L1705.3 1007.7L1706.5 1007.7L1707.7 1007.7L1708.9 1007.7L1710.1 1007.7L1711.3 1007.7L1712.5 1007.7L1713.7 1007.7L1714.9 1007.7L1716.1 1007.7L1717.3 1007.7L1718.5 1007.7L1719.7 1007.7L1720.9 1007.7L1722.1 1007.7L1723.3 1007.7L1724.6 1007.7L1725.8 1007.7L1727.0 1007.7L1728.2 1007.7L1729.4 1007.7L1730.6 1007.7L1731.8 1007.7L1733.0 1007.7L1734.2 1007.7L1735.4 1007.7L1736.6 1007.7L1737.8 1007.7L1739.0 1007.7L1740.2 1007.7L1741.4 1007.7L1742.6 1007.7L1743.8 1007.7L1745.0 1007.7L1746.2 1007.7L1747.4 1007.7L1748.2 1007.7L1748.6 1007.7L1749.8 1007.7L1751.0 1007.7L1752.2 1007.7L1753.4 1007.7L1754.6 1007.7L1755.8 1007.7L1757.0 1007.7L1758.2 1007.7L1759.4 1007.7L1760.6 1007.7L1761.8 1007.7L1763.0 1007.7L1764.2 1007.7L1765.4 1007.7L1766.6 1007.7L1767.8 1007.7L1769.0 1007.7L1770.2 1007.7L1771.4 1007.7L1772.6 1007.7L1773.8 1007.7L1775.1 1007.7L1776.3 1007.7L1777.5 1007.8L1778.7 1007.8L1779.9 1007.8L1781.1 1007.8L1782.3 1007.8L1783.5 1007.8L1784.7 1007.8L1785.9 1007.8L1787.1 1007.8L1788.3 1007.8L1789.5 1007.8L1790.7 1007.8L1791.9 1007.8L1793.1 1007.8L1794.3 1007.8L1795.5 1007.8L1796.7 1007.8L1797.9 1007.9L1799.1 1007.9L1800.3 1007.9L1801.5 1007.9L1802.7 1007.9L1803.9 1007.9L1805.1 1007.9L1806.3 1007.9L1807.5 1007.9L1808.7 1007.9L1809.9 1008.0L1811.1 1008.0L1812.3 1008.0L1813.5 1008.0L1814.7 1008.0L1815.0 1008.0L1815.9 1008.0L1817.1 1008.0L1818.3 1008.1L1819.5 1008.1L1820.7 1008.2L1821.9 1008.2L1823.1 1008.3L1824.3 1008.4L1825.5 1008.4L1826.7 1008.5L1827.9 1008.6L1829.1 1008.7L1830.3 1008.8L1831.5 1008.9L1832.7 1009.0L1833.9 1009.1L1835.1 1009.2L1835.3 1009.2L1836.3 1009.3L1837.5 1009.4L1838.7 1009.6L1839.9 1009.7" stroke="#000000"/>
<path d="M151.0 194.2L153.6 220.0L405.0 220.0L412.0 402.0L574.8 402.0L581.1 220.0L660.0 220.0L666.0 402.0L744.9 402.0L751.2 220.0L1000.2 220.0L1007.3 402.0L1083.6 402.0L1091.4 220.0L1764.1 220.0L1771.5 402.0L1839.9 402.0" stroke="#0000ff" stroke-dasharray="26.3 8.05 7.5 8.42" stroke-dashoffset="48.21"/>
<path d="M152.0 936.0L153.2 657.0L153.6 746.0L405.5 746.0L412.2 605.0L574.6 605.0L581.3 746.0L659.9 746.0L665.8 605.0L744.8 605.0L751.2 746.0L1000.2 746.0L1007.0 605.0L1084.2 605.0L1089.9 746.0L1764.3 746.0L1771.5 605.0L1839.9 605.0" stroke="#0000ff"/>
</g>
<g fill="#262626" stroke="#262626" stroke-width="0.50" stroke-linejoin="miter" letter-spacing="0.5" font-size="54.3px">
<text x="149.5" y="1251.5" text-anchor="middle">0</text>
<text x="320.2" y="1251.5" text-anchor="middle">200</text>
<text x="490.8" y="1251.5" text-anchor="middle">400</text>
<text x="661.5" y="1251.5" text-anchor="middle">600</text>
<text x="832.1" y="1251.5" text-anchor="middle">800</text>
<text x="1002.8" y="1251.5" text-anchor="middle">1000</text>
<text x="1173.5" y="1251.5" text-anchor="middle">1200</text>
<text x="1344.1" y="1251.5" text-anchor="middle">1400</text>
<text x="1514.8" y="1251.5" text-anchor="middle">1600</text>
<text x="1685.4" y="1251.5" text-anchor="middle">1800</text>
<text x="1856.1" y="1251.5" text-anchor="middle">2000</text>
<text x="127.5" y="1199.7" text-anchor="end">0</text>
<text x="127.5" y="1015.5" text-anchor="end">1</text>
<text x="127.5" y="831.4" text-anchor="end">2</text>
<text x="127.5" y="647.2" text-anchor="end">3</text>
<text x="127.5" y="463.0" text-anchor="end">4</text>
<text x="127.5" y="278.9" text-anchor="end">5</text>
<text x="127.5" y="94.7" text-anchor="end">6</text>
<text x="170.9" y="71.9" text-anchor="middle" font-size="65px">×</text>
<text x="193.4" y="63.1">10</text>
<text x="247.3" y="38.3" font-size="41.7px">6</text>
</g>
<g fill="#262626" stroke="#262626" stroke-width="0.50" stroke-linejoin="miter" letter-spacing="0.55" font-size="55.3px">
<text x="1001.9" y="1322.7" text-anchor="middle">Time (s)</text>
<text transform="translate(72.6 628.9) rotate(-90)" text-anchor="middle">Turbine power (W)</text>
</g>
<rect x="1250" y="249" width="481" height="477" fill="#fff" stroke="#202020" stroke-width="4" shape-rendering="crispEdges"/>
<g fill="none" stroke-width="6.2" shape-rendering="crispEdges">
<path d="M1265.0 293.8 H1384.1" stroke="#ff0000" stroke-dasharray="26.3 8.05 7.5 8.42"/>
<path d="M1265.0 371.1 H1384.1" stroke="#ff0000"/>
<path d="M1265.0 448.4 H1384.1" stroke="#000000" stroke-dasharray="26.3 8.05 7.5 8.42"/>
<path d="M1265.0 525.7 H1384.1" stroke="#000000"/>
<path d="M1265.0 603.0 H1384.1" stroke="#0000ff" stroke-dasharray="26.3 8.05 7.5 8.42"/>
<path d="M1265.0 680.3 H1384.1" stroke="#0000ff"/>
</g>
<g fill="#000" stroke="#000" stroke-width="0.50" stroke-linejoin="miter" letter-spacing="0.45" font-size="46.3px">
<text y="298.2"><tspan x="1405.0" font-style="italic">P</tspan><tspan x="1435.1" font-size="36.3px" dy="22.4">1</tspan><tspan x="1466.0" dy="-22.4">(Dyn-model)</tspan></text>
<text y="376.0"><tspan x="1405.0" font-style="italic">P</tspan><tspan x="1435.5" font-size="36.3px" dy="22.4">2</tspan><tspan x="1466.0" dy="-22.4">(Dyn-model)</tspan></text>
<text y="453.8"><tspan x="1405.0" font-style="italic">P</tspan><tspan x="1435.1" font-size="36.3px" dy="22.4">1</tspan><tspan x="1466.0" dy="-22.4">(SOWFA)</tspan></text>
<text y="531.6"><tspan x="1405.0" font-style="italic">P</tspan><tspan x="1435.5" font-size="36.3px" dy="22.4">2</tspan><tspan x="1466.0" dy="-22.4">(SOWFA)</tspan></text>
<text y="609.4"><tspan x="1405.0" font-style="italic">P</tspan><tspan x="1435.1" font-size="36.3px" dy="22.4">1</tspan><tspan x="1466.0" dy="-22.4">(Jensen)</tspan></text>
<text y="687.2"><tspan x="1405.0" font-style="italic">P</tspan><tspan x="1435.5" font-size="36.3px" dy="22.4">2</tspan><tspan x="1466.0" dy="-22.4">(Jensen)</tspan></text>
</g>
</svg></body></html>
